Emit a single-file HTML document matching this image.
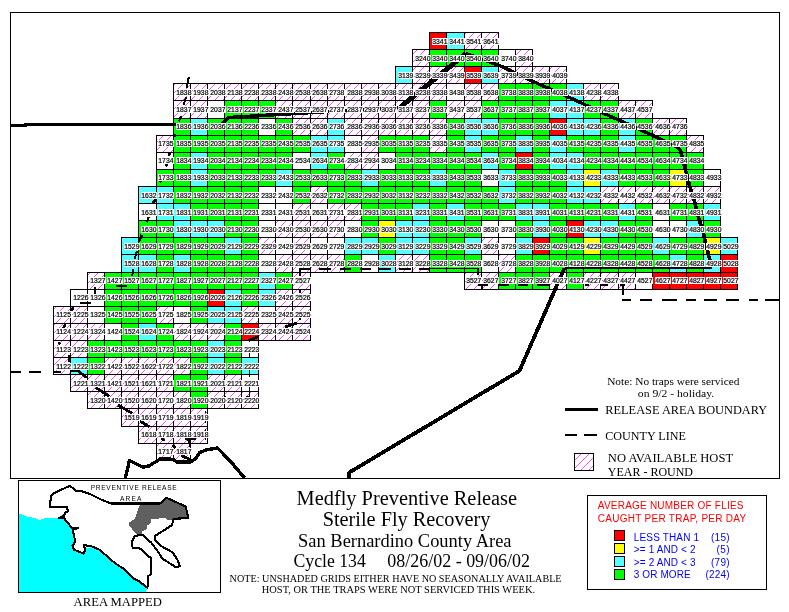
<!DOCTYPE html><html><head><meta charset="utf-8"><title>Medfly Preventive Release</title>
<style>html,body{margin:0;padding:0;background:#fff}svg{display:block}.lb{font-family:"Liberation Sans",sans-serif;font-size:7.4px;fill:#000;stroke:#000;stroke-width:.22px}.sf{font-family:"Liberation Serif",serif;fill:#000}.ss{font-family:"Liberation Sans",sans-serif}</style></head><body>
<svg width="789" height="612" viewBox="0 0 789 612">
<rect x="0" y="0" width="789" height="612" fill="#fff"/>
<g shape-rendering="crispEdges">
<rect x="10.5" y="12.5" width="769" height="466" fill="none" stroke="#000" stroke-width="1"/>
<rect x="429" y="32" width="17" height="17" fill="#ff0000"/>
<rect x="446" y="32" width="18" height="17" fill="#55ffff"/>
<rect x="464" y="32" width="17" height="17" fill="#ffffff"/>
<rect x="481" y="32" width="17" height="17" fill="#ffffff"/>
<rect x="412" y="49" width="17" height="17" fill="#ffffff"/>
<rect x="429" y="49" width="17" height="17" fill="#00ff00"/>
<rect x="446" y="49" width="18" height="17" fill="#00ff00"/>
<rect x="464" y="49" width="17" height="17" fill="#00ff00"/>
<rect x="481" y="49" width="17" height="17" fill="#00ff00"/>
<rect x="498" y="49" width="17" height="17" fill="#ffffff"/>
<rect x="515" y="49" width="17" height="17" fill="#ffffff"/>
<rect x="395" y="66" width="17" height="17" fill="#55ffff"/>
<rect x="412" y="66" width="17" height="17" fill="#ffffff"/>
<rect x="429" y="66" width="17" height="17" fill="#ffffff"/>
<rect x="446" y="66" width="18" height="17" fill="#ffffff"/>
<rect x="464" y="66" width="17" height="17" fill="#ff0000"/>
<rect x="481" y="66" width="17" height="17" fill="#55ffff"/>
<rect x="498" y="66" width="17" height="17" fill="#ffffff"/>
<rect x="515" y="66" width="17" height="17" fill="#ffffff"/>
<rect x="532" y="66" width="17" height="17" fill="#ffffff"/>
<rect x="549" y="66" width="17" height="17" fill="#ffffff"/>
<rect x="173" y="83" width="17" height="17" fill="#ffffff"/>
<rect x="190" y="83" width="17" height="17" fill="#ffffff"/>
<rect x="207" y="83" width="17" height="17" fill="#ffffff"/>
<rect x="224" y="83" width="17" height="17" fill="#ffffff"/>
<rect x="241" y="83" width="17" height="17" fill="#ffffff"/>
<rect x="258" y="83" width="17" height="17" fill="#ffffff"/>
<rect x="275" y="83" width="17" height="17" fill="#ffffff"/>
<rect x="292" y="83" width="18" height="17" fill="#ffffff"/>
<rect x="310" y="83" width="17" height="17" fill="#ffffff"/>
<rect x="327" y="83" width="17" height="17" fill="#ffffff"/>
<rect x="344" y="83" width="17" height="17" fill="#ffffff"/>
<rect x="361" y="83" width="17" height="17" fill="#ffffff"/>
<rect x="378" y="83" width="17" height="17" fill="#ffffff"/>
<rect x="395" y="83" width="17" height="17" fill="#ffffff"/>
<rect x="412" y="83" width="17" height="17" fill="#ffffff"/>
<rect x="429" y="83" width="17" height="17" fill="#ffffff"/>
<rect x="446" y="83" width="18" height="17" fill="#ffffff"/>
<rect x="464" y="83" width="17" height="17" fill="#ffffff"/>
<rect x="481" y="83" width="17" height="17" fill="#ffffff"/>
<rect x="498" y="83" width="17" height="17" fill="#00ff00"/>
<rect x="515" y="83" width="17" height="17" fill="#00ff00"/>
<rect x="532" y="83" width="17" height="17" fill="#00ff00"/>
<rect x="549" y="83" width="17" height="17" fill="#00ff00"/>
<rect x="566" y="83" width="17" height="17" fill="#55ffff"/>
<rect x="583" y="83" width="17" height="17" fill="#ffffff"/>
<rect x="600" y="83" width="18" height="17" fill="#ffffff"/>
<rect x="173" y="100" width="17" height="18" fill="#ffffff"/>
<rect x="190" y="100" width="17" height="18" fill="#ffffff"/>
<rect x="207" y="100" width="17" height="18" fill="#ffffff"/>
<rect x="224" y="100" width="17" height="18" fill="#00ff00"/>
<rect x="241" y="100" width="17" height="18" fill="#00ff00"/>
<rect x="258" y="100" width="17" height="18" fill="#00ff00"/>
<rect x="275" y="100" width="17" height="18" fill="#ffffff"/>
<rect x="292" y="100" width="18" height="18" fill="#ffffff"/>
<rect x="310" y="100" width="17" height="18" fill="#ffffff"/>
<rect x="327" y="100" width="17" height="18" fill="#ffffff"/>
<rect x="344" y="100" width="17" height="18" fill="#ffffff"/>
<rect x="361" y="100" width="17" height="18" fill="#ffffff"/>
<rect x="378" y="100" width="17" height="18" fill="#ffffff"/>
<rect x="395" y="100" width="17" height="18" fill="#ffffff"/>
<rect x="412" y="100" width="17" height="18" fill="#ffffff"/>
<rect x="429" y="100" width="17" height="18" fill="#00ff00"/>
<rect x="446" y="100" width="18" height="18" fill="#ffffff"/>
<rect x="464" y="100" width="17" height="18" fill="#ffffff"/>
<rect x="481" y="100" width="17" height="18" fill="#00ff00"/>
<rect x="498" y="100" width="17" height="18" fill="#00ff00"/>
<rect x="515" y="100" width="17" height="18" fill="#00ff00"/>
<rect x="532" y="100" width="17" height="18" fill="#00ff00"/>
<rect x="549" y="100" width="17" height="18" fill="#55ffff"/>
<rect x="566" y="100" width="17" height="18" fill="#55ffff"/>
<rect x="583" y="100" width="17" height="18" fill="#00ff00"/>
<rect x="600" y="100" width="18" height="18" fill="#00ff00"/>
<rect x="618" y="100" width="17" height="18" fill="#ffffff"/>
<rect x="635" y="100" width="17" height="18" fill="#ffffff"/>
<rect x="173" y="118" width="17" height="17" fill="#00ff00"/>
<rect x="190" y="118" width="17" height="17" fill="#55ffff"/>
<rect x="207" y="118" width="17" height="17" fill="#00ff00"/>
<rect x="224" y="118" width="17" height="17" fill="#00ff00"/>
<rect x="241" y="118" width="17" height="17" fill="#00ff00"/>
<rect x="258" y="118" width="17" height="17" fill="#ffffff"/>
<rect x="275" y="118" width="17" height="17" fill="#00ff00"/>
<rect x="292" y="118" width="18" height="17" fill="#ffffff"/>
<rect x="310" y="118" width="17" height="17" fill="#ffffff"/>
<rect x="327" y="118" width="17" height="17" fill="#55ffff"/>
<rect x="344" y="118" width="17" height="17" fill="#ffffff"/>
<rect x="361" y="118" width="17" height="17" fill="#ffffff"/>
<rect x="378" y="118" width="17" height="17" fill="#ffffff"/>
<rect x="395" y="118" width="17" height="17" fill="#ffffff"/>
<rect x="412" y="118" width="17" height="17" fill="#ffffff"/>
<rect x="429" y="118" width="17" height="17" fill="#ffffff"/>
<rect x="446" y="118" width="18" height="17" fill="#00ff00"/>
<rect x="464" y="118" width="17" height="17" fill="#55ffff"/>
<rect x="481" y="118" width="17" height="17" fill="#55ffff"/>
<rect x="498" y="118" width="17" height="17" fill="#00ff00"/>
<rect x="515" y="118" width="17" height="17" fill="#00ff00"/>
<rect x="532" y="118" width="17" height="17" fill="#00ff00"/>
<rect x="549" y="118" width="17" height="17" fill="#ff0000"/>
<rect x="566" y="118" width="17" height="17" fill="#55ffff"/>
<rect x="583" y="118" width="17" height="17" fill="#55ffff"/>
<rect x="600" y="118" width="18" height="17" fill="#00ff00"/>
<rect x="618" y="118" width="17" height="17" fill="#55ffff"/>
<rect x="635" y="118" width="17" height="17" fill="#00ff00"/>
<rect x="652" y="118" width="17" height="17" fill="#ffffff"/>
<rect x="669" y="118" width="17" height="17" fill="#ffffff"/>
<rect x="156" y="135" width="17" height="17" fill="#ffffff"/>
<rect x="173" y="135" width="17" height="17" fill="#00ff00"/>
<rect x="190" y="135" width="17" height="17" fill="#00ff00"/>
<rect x="207" y="135" width="17" height="17" fill="#00ff00"/>
<rect x="224" y="135" width="17" height="17" fill="#00ff00"/>
<rect x="241" y="135" width="17" height="17" fill="#00ff00"/>
<rect x="258" y="135" width="17" height="17" fill="#00ff00"/>
<rect x="275" y="135" width="17" height="17" fill="#00ff00"/>
<rect x="292" y="135" width="18" height="17" fill="#00ff00"/>
<rect x="310" y="135" width="17" height="17" fill="#55ffff"/>
<rect x="327" y="135" width="17" height="17" fill="#55ffff"/>
<rect x="344" y="135" width="17" height="17" fill="#ffffff"/>
<rect x="361" y="135" width="17" height="17" fill="#ffffff"/>
<rect x="378" y="135" width="17" height="17" fill="#00ff00"/>
<rect x="395" y="135" width="17" height="17" fill="#00ff00"/>
<rect x="412" y="135" width="17" height="17" fill="#00ff00"/>
<rect x="429" y="135" width="17" height="17" fill="#ffffff"/>
<rect x="446" y="135" width="18" height="17" fill="#00ff00"/>
<rect x="464" y="135" width="17" height="17" fill="#55ffff"/>
<rect x="481" y="135" width="17" height="17" fill="#00ff00"/>
<rect x="498" y="135" width="17" height="17" fill="#00ff00"/>
<rect x="515" y="135" width="17" height="17" fill="#55ffff"/>
<rect x="532" y="135" width="17" height="17" fill="#00ff00"/>
<rect x="549" y="135" width="17" height="17" fill="#55ffff"/>
<rect x="566" y="135" width="17" height="17" fill="#00ff00"/>
<rect x="583" y="135" width="17" height="17" fill="#00ff00"/>
<rect x="600" y="135" width="18" height="17" fill="#00ff00"/>
<rect x="618" y="135" width="17" height="17" fill="#55ffff"/>
<rect x="635" y="135" width="17" height="17" fill="#00ff00"/>
<rect x="652" y="135" width="17" height="17" fill="#00ff00"/>
<rect x="669" y="135" width="17" height="17" fill="#00ff00"/>
<rect x="686" y="135" width="17" height="17" fill="#ffffff"/>
<rect x="156" y="152" width="17" height="17" fill="#ffffff"/>
<rect x="173" y="152" width="17" height="17" fill="#00ff00"/>
<rect x="190" y="152" width="17" height="17" fill="#55ffff"/>
<rect x="207" y="152" width="17" height="17" fill="#00ff00"/>
<rect x="224" y="152" width="17" height="17" fill="#00ff00"/>
<rect x="241" y="152" width="17" height="17" fill="#00ff00"/>
<rect x="258" y="152" width="17" height="17" fill="#00ff00"/>
<rect x="275" y="152" width="17" height="17" fill="#00ff00"/>
<rect x="292" y="152" width="18" height="17" fill="#ffffff"/>
<rect x="310" y="152" width="17" height="17" fill="#55ffff"/>
<rect x="327" y="152" width="17" height="17" fill="#00ff00"/>
<rect x="344" y="152" width="17" height="17" fill="#ffffff"/>
<rect x="361" y="152" width="17" height="17" fill="#ffffff"/>
<rect x="378" y="152" width="17" height="17" fill="#ffffff"/>
<rect x="395" y="152" width="17" height="17" fill="#00ff00"/>
<rect x="412" y="152" width="17" height="17" fill="#00ff00"/>
<rect x="429" y="152" width="17" height="17" fill="#00ff00"/>
<rect x="446" y="152" width="18" height="17" fill="#00ff00"/>
<rect x="464" y="152" width="17" height="17" fill="#00ff00"/>
<rect x="481" y="152" width="17" height="17" fill="#55ffff"/>
<rect x="498" y="152" width="17" height="17" fill="#00ff00"/>
<rect x="515" y="152" width="17" height="17" fill="#ff0000"/>
<rect x="532" y="152" width="17" height="17" fill="#00ff00"/>
<rect x="549" y="152" width="17" height="17" fill="#55ffff"/>
<rect x="566" y="152" width="17" height="17" fill="#55ffff"/>
<rect x="583" y="152" width="17" height="17" fill="#00ff00"/>
<rect x="600" y="152" width="18" height="17" fill="#00ff00"/>
<rect x="618" y="152" width="17" height="17" fill="#00ff00"/>
<rect x="635" y="152" width="17" height="17" fill="#00ff00"/>
<rect x="652" y="152" width="17" height="17" fill="#00ff00"/>
<rect x="669" y="152" width="17" height="17" fill="#00ff00"/>
<rect x="686" y="152" width="17" height="17" fill="#00ff00"/>
<rect x="156" y="169" width="17" height="17" fill="#00ff00"/>
<rect x="173" y="169" width="17" height="17" fill="#00ff00"/>
<rect x="190" y="169" width="17" height="17" fill="#55ffff"/>
<rect x="207" y="169" width="17" height="17" fill="#00ff00"/>
<rect x="224" y="169" width="17" height="17" fill="#00ff00"/>
<rect x="241" y="169" width="17" height="17" fill="#00ff00"/>
<rect x="258" y="169" width="17" height="17" fill="#00ff00"/>
<rect x="275" y="169" width="17" height="17" fill="#55ffff"/>
<rect x="292" y="169" width="18" height="17" fill="#00ff00"/>
<rect x="310" y="169" width="17" height="17" fill="#00ff00"/>
<rect x="327" y="169" width="17" height="17" fill="#00ff00"/>
<rect x="344" y="169" width="17" height="17" fill="#00ff00"/>
<rect x="361" y="169" width="17" height="17" fill="#55ffff"/>
<rect x="378" y="169" width="17" height="17" fill="#00ff00"/>
<rect x="395" y="169" width="17" height="17" fill="#00ff00"/>
<rect x="412" y="169" width="17" height="17" fill="#00ff00"/>
<rect x="429" y="169" width="17" height="17" fill="#55ffff"/>
<rect x="446" y="169" width="18" height="17" fill="#00ff00"/>
<rect x="464" y="169" width="17" height="17" fill="#00ff00"/>
<rect x="481" y="169" width="17" height="17" fill="#ffffff"/>
<rect x="498" y="169" width="17" height="17" fill="#55ffff"/>
<rect x="515" y="169" width="17" height="17" fill="#00ff00"/>
<rect x="532" y="169" width="17" height="17" fill="#00ff00"/>
<rect x="549" y="169" width="17" height="17" fill="#00ff00"/>
<rect x="566" y="169" width="17" height="17" fill="#55ffff"/>
<rect x="583" y="169" width="17" height="17" fill="#ffff00"/>
<rect x="600" y="169" width="18" height="17" fill="#55ffff"/>
<rect x="618" y="169" width="17" height="17" fill="#00ff00"/>
<rect x="635" y="169" width="17" height="17" fill="#00ff00"/>
<rect x="652" y="169" width="17" height="17" fill="#00ff00"/>
<rect x="669" y="169" width="17" height="17" fill="#ffff00"/>
<rect x="686" y="169" width="17" height="17" fill="#00ff00"/>
<rect x="703" y="169" width="17" height="17" fill="#ffffff"/>
<rect x="138" y="186" width="18" height="17" fill="#55ffff"/>
<rect x="156" y="186" width="17" height="17" fill="#55ffff"/>
<rect x="173" y="186" width="17" height="17" fill="#00ff00"/>
<rect x="190" y="186" width="17" height="17" fill="#00ff00"/>
<rect x="207" y="186" width="17" height="17" fill="#00ff00"/>
<rect x="224" y="186" width="17" height="17" fill="#00ff00"/>
<rect x="241" y="186" width="17" height="17" fill="#00ff00"/>
<rect x="258" y="186" width="17" height="17" fill="#ffffff"/>
<rect x="275" y="186" width="17" height="17" fill="#ffffff"/>
<rect x="292" y="186" width="18" height="17" fill="#00ff00"/>
<rect x="310" y="186" width="17" height="17" fill="#ffffff"/>
<rect x="327" y="186" width="17" height="17" fill="#00ff00"/>
<rect x="344" y="186" width="17" height="17" fill="#00ff00"/>
<rect x="361" y="186" width="17" height="17" fill="#00ff00"/>
<rect x="378" y="186" width="17" height="17" fill="#00ff00"/>
<rect x="395" y="186" width="17" height="17" fill="#00ff00"/>
<rect x="412" y="186" width="17" height="17" fill="#00ff00"/>
<rect x="429" y="186" width="17" height="17" fill="#00ff00"/>
<rect x="446" y="186" width="18" height="17" fill="#00ff00"/>
<rect x="464" y="186" width="17" height="17" fill="#00ff00"/>
<rect x="481" y="186" width="17" height="17" fill="#00ff00"/>
<rect x="498" y="186" width="17" height="17" fill="#55ffff"/>
<rect x="515" y="186" width="17" height="17" fill="#00ff00"/>
<rect x="532" y="186" width="17" height="17" fill="#00ff00"/>
<rect x="549" y="186" width="17" height="17" fill="#00ff00"/>
<rect x="566" y="186" width="17" height="17" fill="#55ffff"/>
<rect x="583" y="186" width="17" height="17" fill="#55ffff"/>
<rect x="600" y="186" width="18" height="17" fill="#ffffff"/>
<rect x="618" y="186" width="17" height="17" fill="#ffffff"/>
<rect x="635" y="186" width="17" height="17" fill="#ffffff"/>
<rect x="652" y="186" width="17" height="17" fill="#ffffff"/>
<rect x="669" y="186" width="17" height="17" fill="#ffffff"/>
<rect x="686" y="186" width="17" height="17" fill="#ffffff"/>
<rect x="703" y="186" width="17" height="17" fill="#ffffff"/>
<rect x="138" y="203" width="18" height="17" fill="#ffffff"/>
<rect x="156" y="203" width="17" height="17" fill="#55ffff"/>
<rect x="173" y="203" width="17" height="17" fill="#55ffff"/>
<rect x="190" y="203" width="17" height="17" fill="#00ff00"/>
<rect x="207" y="203" width="17" height="17" fill="#00ff00"/>
<rect x="224" y="203" width="17" height="17" fill="#00ff00"/>
<rect x="241" y="203" width="17" height="17" fill="#00ff00"/>
<rect x="258" y="203" width="17" height="17" fill="#ffffff"/>
<rect x="275" y="203" width="17" height="17" fill="#ffffff"/>
<rect x="292" y="203" width="18" height="17" fill="#ffffff"/>
<rect x="310" y="203" width="17" height="17" fill="#ffffff"/>
<rect x="327" y="203" width="17" height="17" fill="#ffffff"/>
<rect x="344" y="203" width="17" height="17" fill="#ffffff"/>
<rect x="361" y="203" width="17" height="17" fill="#00ff00"/>
<rect x="378" y="203" width="17" height="17" fill="#00ff00"/>
<rect x="395" y="203" width="17" height="17" fill="#00ff00"/>
<rect x="412" y="203" width="17" height="17" fill="#55ffff"/>
<rect x="429" y="203" width="17" height="17" fill="#00ff00"/>
<rect x="446" y="203" width="18" height="17" fill="#55ffff"/>
<rect x="464" y="203" width="17" height="17" fill="#00ff00"/>
<rect x="481" y="203" width="17" height="17" fill="#00ff00"/>
<rect x="498" y="203" width="17" height="17" fill="#00ff00"/>
<rect x="515" y="203" width="17" height="17" fill="#55ffff"/>
<rect x="532" y="203" width="17" height="17" fill="#55ffff"/>
<rect x="549" y="203" width="17" height="17" fill="#00ff00"/>
<rect x="566" y="203" width="17" height="17" fill="#00ff00"/>
<rect x="583" y="203" width="17" height="17" fill="#00ff00"/>
<rect x="600" y="203" width="18" height="17" fill="#00ff00"/>
<rect x="618" y="203" width="17" height="17" fill="#55ffff"/>
<rect x="635" y="203" width="17" height="17" fill="#00ff00"/>
<rect x="652" y="203" width="17" height="17" fill="#ffffff"/>
<rect x="669" y="203" width="17" height="17" fill="#00ff00"/>
<rect x="686" y="203" width="17" height="17" fill="#00ff00"/>
<rect x="703" y="203" width="17" height="17" fill="#55ffff"/>
<rect x="138" y="220" width="18" height="17" fill="#00ff00"/>
<rect x="156" y="220" width="17" height="17" fill="#00ff00"/>
<rect x="173" y="220" width="17" height="17" fill="#55ffff"/>
<rect x="190" y="220" width="17" height="17" fill="#55ffff"/>
<rect x="207" y="220" width="17" height="17" fill="#55ffff"/>
<rect x="224" y="220" width="17" height="17" fill="#00ff00"/>
<rect x="241" y="220" width="17" height="17" fill="#00ff00"/>
<rect x="258" y="220" width="17" height="17" fill="#ffffff"/>
<rect x="275" y="220" width="17" height="17" fill="#ffffff"/>
<rect x="292" y="220" width="18" height="17" fill="#ffffff"/>
<rect x="310" y="220" width="17" height="17" fill="#ffffff"/>
<rect x="327" y="220" width="17" height="17" fill="#ffffff"/>
<rect x="344" y="220" width="17" height="17" fill="#ffffff"/>
<rect x="361" y="220" width="17" height="17" fill="#00ff00"/>
<rect x="378" y="220" width="17" height="17" fill="#ffff00"/>
<rect x="395" y="220" width="17" height="17" fill="#55ffff"/>
<rect x="412" y="220" width="17" height="17" fill="#55ffff"/>
<rect x="429" y="220" width="17" height="17" fill="#00ff00"/>
<rect x="446" y="220" width="18" height="17" fill="#00ff00"/>
<rect x="464" y="220" width="17" height="17" fill="#00ff00"/>
<rect x="481" y="220" width="17" height="17" fill="#ffffff"/>
<rect x="498" y="220" width="17" height="17" fill="#ffffff"/>
<rect x="515" y="220" width="17" height="17" fill="#00ff00"/>
<rect x="532" y="220" width="17" height="17" fill="#55ffff"/>
<rect x="549" y="220" width="17" height="17" fill="#00ff00"/>
<rect x="566" y="220" width="17" height="17" fill="#ff0000"/>
<rect x="583" y="220" width="17" height="17" fill="#55ffff"/>
<rect x="600" y="220" width="18" height="17" fill="#55ffff"/>
<rect x="618" y="220" width="17" height="17" fill="#00ff00"/>
<rect x="635" y="220" width="17" height="17" fill="#00ff00"/>
<rect x="652" y="220" width="17" height="17" fill="#ffffff"/>
<rect x="669" y="220" width="17" height="17" fill="#ffffff"/>
<rect x="686" y="220" width="17" height="17" fill="#55ffff"/>
<rect x="703" y="220" width="17" height="17" fill="#00ff00"/>
<rect x="121" y="237" width="17" height="17" fill="#55ffff"/>
<rect x="138" y="237" width="18" height="17" fill="#00ff00"/>
<rect x="156" y="237" width="17" height="17" fill="#00ff00"/>
<rect x="173" y="237" width="17" height="17" fill="#00ff00"/>
<rect x="190" y="237" width="17" height="17" fill="#00ff00"/>
<rect x="207" y="237" width="17" height="17" fill="#00ff00"/>
<rect x="224" y="237" width="17" height="17" fill="#55ffff"/>
<rect x="241" y="237" width="17" height="17" fill="#00ff00"/>
<rect x="258" y="237" width="17" height="17" fill="#ffffff"/>
<rect x="275" y="237" width="17" height="17" fill="#ffffff"/>
<rect x="292" y="237" width="18" height="17" fill="#ffffff"/>
<rect x="310" y="237" width="17" height="17" fill="#ffffff"/>
<rect x="327" y="237" width="17" height="17" fill="#ffffff"/>
<rect x="344" y="237" width="17" height="17" fill="#55ffff"/>
<rect x="361" y="237" width="17" height="17" fill="#55ffff"/>
<rect x="378" y="237" width="17" height="17" fill="#00ff00"/>
<rect x="395" y="237" width="17" height="17" fill="#55ffff"/>
<rect x="412" y="237" width="17" height="17" fill="#55ffff"/>
<rect x="429" y="237" width="17" height="17" fill="#00ff00"/>
<rect x="446" y="237" width="18" height="17" fill="#00ff00"/>
<rect x="464" y="237" width="17" height="17" fill="#55ffff"/>
<rect x="481" y="237" width="17" height="17" fill="#ffffff"/>
<rect x="498" y="237" width="17" height="17" fill="#ffffff"/>
<rect x="515" y="237" width="17" height="17" fill="#55ffff"/>
<rect x="532" y="237" width="17" height="17" fill="#ff0000"/>
<rect x="549" y="237" width="17" height="17" fill="#00ff00"/>
<rect x="566" y="237" width="17" height="17" fill="#00ff00"/>
<rect x="583" y="237" width="17" height="17" fill="#ffff00"/>
<rect x="600" y="237" width="18" height="17" fill="#00ff00"/>
<rect x="618" y="237" width="17" height="17" fill="#00ff00"/>
<rect x="635" y="237" width="17" height="17" fill="#00ff00"/>
<rect x="652" y="237" width="17" height="17" fill="#55ffff"/>
<rect x="669" y="237" width="17" height="17" fill="#00ff00"/>
<rect x="686" y="237" width="17" height="17" fill="#00ff00"/>
<rect x="703" y="237" width="17" height="17" fill="#ffff00"/>
<rect x="720" y="237" width="17" height="17" fill="#55ffff"/>
<rect x="121" y="254" width="17" height="18" fill="#55ffff"/>
<rect x="138" y="254" width="18" height="18" fill="#55ffff"/>
<rect x="156" y="254" width="17" height="18" fill="#00ff00"/>
<rect x="173" y="254" width="17" height="18" fill="#55ffff"/>
<rect x="190" y="254" width="17" height="18" fill="#00ff00"/>
<rect x="207" y="254" width="17" height="18" fill="#00ff00"/>
<rect x="224" y="254" width="17" height="18" fill="#00ff00"/>
<rect x="241" y="254" width="17" height="18" fill="#00ff00"/>
<rect x="258" y="254" width="17" height="18" fill="#ffffff"/>
<rect x="275" y="254" width="17" height="18" fill="#ffffff"/>
<rect x="292" y="254" width="18" height="18" fill="#ffffff"/>
<rect x="310" y="254" width="17" height="18" fill="#ffffff"/>
<rect x="327" y="254" width="17" height="18" fill="#ffffff"/>
<rect x="344" y="254" width="17" height="18" fill="#00ff00"/>
<rect x="361" y="254" width="17" height="18" fill="#ffffff"/>
<rect x="378" y="254" width="17" height="18" fill="#55ffff"/>
<rect x="395" y="254" width="17" height="18" fill="#ffffff"/>
<rect x="412" y="254" width="17" height="18" fill="#ffffff"/>
<rect x="429" y="254" width="17" height="18" fill="#00ff00"/>
<rect x="446" y="254" width="18" height="18" fill="#00ff00"/>
<rect x="464" y="254" width="17" height="18" fill="#00ff00"/>
<rect x="481" y="254" width="17" height="18" fill="#ffffff"/>
<rect x="498" y="254" width="17" height="18" fill="#ffffff"/>
<rect x="515" y="254" width="17" height="18" fill="#00ff00"/>
<rect x="532" y="254" width="17" height="18" fill="#00ff00"/>
<rect x="549" y="254" width="17" height="18" fill="#00ff00"/>
<rect x="566" y="254" width="17" height="18" fill="#00ff00"/>
<rect x="583" y="254" width="17" height="18" fill="#00ff00"/>
<rect x="600" y="254" width="18" height="18" fill="#00ff00"/>
<rect x="618" y="254" width="17" height="18" fill="#00ff00"/>
<rect x="635" y="254" width="17" height="18" fill="#00ff00"/>
<rect x="652" y="254" width="17" height="18" fill="#00ff00"/>
<rect x="669" y="254" width="17" height="18" fill="#55ffff"/>
<rect x="686" y="254" width="17" height="18" fill="#00ff00"/>
<rect x="703" y="254" width="17" height="18" fill="#55ffff"/>
<rect x="720" y="254" width="17" height="18" fill="#ff0000"/>
<rect x="70" y="289" width="17" height="17" fill="#ffffff"/>
<rect x="87" y="289" width="17" height="17" fill="#ffffff"/>
<rect x="104" y="289" width="17" height="17" fill="#00ff00"/>
<rect x="121" y="289" width="17" height="17" fill="#00ff00"/>
<rect x="138" y="289" width="18" height="17" fill="#00ff00"/>
<rect x="156" y="289" width="17" height="17" fill="#00ff00"/>
<rect x="173" y="289" width="17" height="17" fill="#00ff00"/>
<rect x="190" y="289" width="17" height="17" fill="#00ff00"/>
<rect x="207" y="289" width="17" height="17" fill="#ff0000"/>
<rect x="224" y="289" width="17" height="17" fill="#55ffff"/>
<rect x="241" y="289" width="17" height="17" fill="#00ff00"/>
<rect x="258" y="289" width="17" height="17" fill="#55ffff"/>
<rect x="275" y="289" width="17" height="17" fill="#ffffff"/>
<rect x="292" y="289" width="18" height="17" fill="#ffffff"/>
<rect x="53" y="306" width="17" height="17" fill="#ffffff"/>
<rect x="70" y="306" width="17" height="17" fill="#ffffff"/>
<rect x="87" y="306" width="17" height="17" fill="#ffffff"/>
<rect x="104" y="306" width="17" height="17" fill="#00ff00"/>
<rect x="121" y="306" width="17" height="17" fill="#00ff00"/>
<rect x="138" y="306" width="18" height="17" fill="#00ff00"/>
<rect x="156" y="306" width="17" height="17" fill="#ffffff"/>
<rect x="173" y="306" width="17" height="17" fill="#ffffff"/>
<rect x="190" y="306" width="17" height="17" fill="#00ff00"/>
<rect x="207" y="306" width="17" height="17" fill="#55ffff"/>
<rect x="224" y="306" width="17" height="17" fill="#55ffff"/>
<rect x="241" y="306" width="17" height="17" fill="#ffffff"/>
<rect x="258" y="306" width="17" height="17" fill="#ffffff"/>
<rect x="275" y="306" width="17" height="17" fill="#ffffff"/>
<rect x="292" y="306" width="18" height="17" fill="#ffffff"/>
<rect x="53" y="323" width="17" height="17" fill="#ffffff"/>
<rect x="70" y="323" width="17" height="17" fill="#ffffff"/>
<rect x="87" y="323" width="17" height="17" fill="#ffffff"/>
<rect x="104" y="323" width="17" height="17" fill="#ffffff"/>
<rect x="121" y="323" width="17" height="17" fill="#00ff00"/>
<rect x="138" y="323" width="18" height="17" fill="#55ffff"/>
<rect x="156" y="323" width="17" height="17" fill="#00ff00"/>
<rect x="173" y="323" width="17" height="17" fill="#ffffff"/>
<rect x="190" y="323" width="17" height="17" fill="#ffffff"/>
<rect x="207" y="323" width="17" height="17" fill="#ffffff"/>
<rect x="224" y="323" width="17" height="17" fill="#00ff00"/>
<rect x="241" y="323" width="17" height="17" fill="#ff0000"/>
<rect x="258" y="323" width="17" height="17" fill="#ffffff"/>
<rect x="275" y="323" width="17" height="17" fill="#ffffff"/>
<rect x="292" y="323" width="18" height="17" fill="#ffffff"/>
<rect x="53" y="340" width="17" height="17" fill="#ffffff"/>
<rect x="70" y="340" width="17" height="17" fill="#ffffff"/>
<rect x="87" y="340" width="17" height="17" fill="#00ff00"/>
<rect x="104" y="340" width="17" height="17" fill="#00ff00"/>
<rect x="121" y="340" width="17" height="17" fill="#00ff00"/>
<rect x="138" y="340" width="18" height="17" fill="#00ff00"/>
<rect x="156" y="340" width="17" height="17" fill="#00ff00"/>
<rect x="173" y="340" width="17" height="17" fill="#00ff00"/>
<rect x="190" y="340" width="17" height="17" fill="#00ff00"/>
<rect x="207" y="340" width="17" height="17" fill="#55ffff"/>
<rect x="224" y="340" width="17" height="17" fill="#00ff00"/>
<rect x="241" y="340" width="17" height="17" fill="#ffffff"/>
<rect x="53" y="357" width="17" height="17" fill="#ffffff"/>
<rect x="70" y="357" width="17" height="17" fill="#55ffff"/>
<rect x="87" y="357" width="17" height="17" fill="#00ff00"/>
<rect x="104" y="357" width="17" height="17" fill="#ffffff"/>
<rect x="121" y="357" width="17" height="17" fill="#ffffff"/>
<rect x="138" y="357" width="18" height="17" fill="#ffffff"/>
<rect x="156" y="357" width="17" height="17" fill="#ffffff"/>
<rect x="173" y="357" width="17" height="17" fill="#ffffff"/>
<rect x="190" y="357" width="17" height="17" fill="#00ff00"/>
<rect x="207" y="357" width="17" height="17" fill="#55ffff"/>
<rect x="224" y="357" width="17" height="17" fill="#00ff00"/>
<rect x="241" y="357" width="17" height="17" fill="#55ffff"/>
<rect x="70" y="374" width="17" height="17" fill="#ffffff"/>
<rect x="87" y="374" width="17" height="17" fill="#ffffff"/>
<rect x="104" y="374" width="17" height="17" fill="#ffffff"/>
<rect x="121" y="374" width="17" height="17" fill="#ffffff"/>
<rect x="138" y="374" width="18" height="17" fill="#ffffff"/>
<rect x="156" y="374" width="17" height="17" fill="#ffffff"/>
<rect x="173" y="374" width="17" height="17" fill="#00ff00"/>
<rect x="190" y="374" width="17" height="17" fill="#00ff00"/>
<rect x="207" y="374" width="17" height="17" fill="#ffffff"/>
<rect x="224" y="374" width="17" height="17" fill="#ffffff"/>
<rect x="241" y="374" width="17" height="17" fill="#ffffff"/>
<rect x="87" y="391" width="17" height="17" fill="#ffffff"/>
<rect x="104" y="391" width="17" height="17" fill="#ffffff"/>
<rect x="121" y="391" width="17" height="17" fill="#ffffff"/>
<rect x="138" y="391" width="18" height="17" fill="#ffffff"/>
<rect x="156" y="391" width="17" height="17" fill="#ffffff"/>
<rect x="173" y="391" width="17" height="17" fill="#ffffff"/>
<rect x="190" y="391" width="17" height="17" fill="#00ff00"/>
<rect x="207" y="391" width="17" height="17" fill="#ffffff"/>
<rect x="224" y="391" width="17" height="17" fill="#ffffff"/>
<rect x="241" y="391" width="17" height="17" fill="#ffffff"/>
<rect x="121" y="408" width="17" height="18" fill="#ffffff"/>
<rect x="138" y="408" width="18" height="18" fill="#ffffff"/>
<rect x="156" y="408" width="17" height="18" fill="#ffffff"/>
<rect x="173" y="408" width="17" height="18" fill="#ffffff"/>
<rect x="190" y="408" width="17" height="18" fill="#ffffff"/>
<rect x="138" y="426" width="18" height="17" fill="#ffffff"/>
<rect x="156" y="426" width="17" height="17" fill="#ffffff"/>
<rect x="173" y="426" width="17" height="17" fill="#ffffff"/>
<rect x="190" y="426" width="17" height="17" fill="#ffffff"/>
<rect x="156" y="443" width="17" height="17" fill="#ffffff"/>
<rect x="173" y="443" width="17" height="17" fill="#ffffff"/>
<rect x="87" y="272" width="17" height="17" fill="#ffffff"/>
<rect x="104" y="272" width="17" height="17" fill="#00ff00"/>
<rect x="121" y="272" width="17" height="17" fill="#00ff00"/>
<rect x="138" y="272" width="18" height="17" fill="#00ff00"/>
<rect x="156" y="272" width="17" height="17" fill="#00ff00"/>
<rect x="173" y="272" width="17" height="17" fill="#00ff00"/>
<rect x="190" y="272" width="17" height="17" fill="#00ff00"/>
<rect x="207" y="272" width="17" height="17" fill="#00ff00"/>
<rect x="224" y="272" width="17" height="17" fill="#00ff00"/>
<rect x="241" y="272" width="17" height="17" fill="#00ff00"/>
<rect x="258" y="272" width="17" height="17" fill="#55ffff"/>
<rect x="275" y="272" width="17" height="17" fill="#00ff00"/>
<rect x="292" y="272" width="18" height="17" fill="#ffffff"/>
<rect x="464" y="272" width="17" height="17" fill="#ffffff"/>
<rect x="481" y="272" width="17" height="17" fill="#ffffff"/>
<rect x="498" y="272" width="17" height="17" fill="#00ff00"/>
<rect x="515" y="272" width="17" height="17" fill="#00ff00"/>
<rect x="532" y="272" width="17" height="17" fill="#00ff00"/>
<rect x="549" y="272" width="17" height="17" fill="#ffffff"/>
<rect x="566" y="272" width="17" height="17" fill="#00ff00"/>
<rect x="583" y="272" width="17" height="17" fill="#ffffff"/>
<rect x="600" y="272" width="18" height="17" fill="#ffffff"/>
<rect x="618" y="272" width="17" height="17" fill="#ffffff"/>
<rect x="635" y="272" width="17" height="17" fill="#ffffff"/>
<rect x="652" y="272" width="17" height="17" fill="#ff0000"/>
<rect x="669" y="272" width="17" height="17" fill="#ff0000"/>
<rect x="686" y="272" width="17" height="17" fill="#ff0000"/>
<rect x="703" y="272" width="17" height="17" fill="#ff0000"/>
<rect x="720" y="272" width="17" height="17" fill="#ff0000"/>
<clipPath id="hc">
<rect x="464" y="32" width="17" height="17"/>
<rect x="481" y="32" width="17" height="17"/>
<rect x="412" y="49" width="17" height="17"/>
<rect x="515" y="49" width="17" height="17"/>
<rect x="412" y="66" width="17" height="17"/>
<rect x="429" y="66" width="17" height="17"/>
<rect x="446" y="66" width="18" height="17"/>
<rect x="498" y="66" width="17" height="17"/>
<rect x="515" y="66" width="17" height="17"/>
<rect x="532" y="66" width="17" height="17"/>
<rect x="549" y="66" width="17" height="17"/>
<rect x="173" y="83" width="17" height="17"/>
<rect x="190" y="83" width="17" height="17"/>
<rect x="207" y="83" width="17" height="17"/>
<rect x="224" y="83" width="17" height="17"/>
<rect x="241" y="83" width="17" height="17"/>
<rect x="258" y="83" width="17" height="17"/>
<rect x="275" y="83" width="17" height="17"/>
<rect x="292" y="83" width="18" height="17"/>
<rect x="310" y="83" width="17" height="17"/>
<rect x="327" y="83" width="17" height="17"/>
<rect x="344" y="83" width="17" height="17"/>
<rect x="361" y="83" width="17" height="17"/>
<rect x="378" y="83" width="17" height="17"/>
<rect x="395" y="83" width="17" height="17"/>
<rect x="412" y="83" width="17" height="17"/>
<rect x="429" y="83" width="17" height="17"/>
<rect x="464" y="83" width="17" height="17"/>
<rect x="481" y="83" width="17" height="17"/>
<rect x="583" y="83" width="17" height="17"/>
<rect x="600" y="83" width="18" height="17"/>
<rect x="173" y="100" width="17" height="18"/>
<rect x="190" y="100" width="17" height="18"/>
<rect x="275" y="100" width="17" height="18"/>
<rect x="292" y="100" width="18" height="18"/>
<rect x="310" y="100" width="17" height="18"/>
<rect x="327" y="100" width="17" height="18"/>
<rect x="344" y="100" width="17" height="18"/>
<rect x="361" y="100" width="17" height="18"/>
<rect x="378" y="100" width="17" height="18"/>
<rect x="395" y="100" width="17" height="18"/>
<rect x="412" y="100" width="17" height="18"/>
<rect x="446" y="100" width="18" height="18"/>
<rect x="464" y="100" width="17" height="18"/>
<rect x="618" y="100" width="17" height="18"/>
<rect x="635" y="100" width="17" height="18"/>
<rect x="292" y="118" width="18" height="17"/>
<rect x="310" y="118" width="17" height="17"/>
<rect x="344" y="118" width="17" height="17"/>
<rect x="361" y="118" width="17" height="17"/>
<rect x="378" y="118" width="17" height="17"/>
<rect x="395" y="118" width="17" height="17"/>
<rect x="412" y="118" width="17" height="17"/>
<rect x="429" y="118" width="17" height="17"/>
<rect x="652" y="118" width="17" height="17"/>
<rect x="669" y="118" width="17" height="17"/>
<rect x="156" y="135" width="17" height="17"/>
<rect x="361" y="135" width="17" height="17"/>
<rect x="429" y="135" width="17" height="17"/>
<rect x="686" y="135" width="17" height="17"/>
<rect x="344" y="152" width="17" height="17"/>
<rect x="361" y="152" width="17" height="17"/>
<rect x="310" y="186" width="17" height="17"/>
<rect x="600" y="186" width="18" height="17"/>
<rect x="618" y="186" width="17" height="17"/>
<rect x="635" y="186" width="17" height="17"/>
<rect x="652" y="186" width="17" height="17"/>
<rect x="669" y="186" width="17" height="17"/>
<rect x="686" y="186" width="17" height="17"/>
<rect x="703" y="186" width="17" height="17"/>
<rect x="292" y="203" width="18" height="17"/>
<rect x="327" y="203" width="17" height="17"/>
<rect x="344" y="203" width="17" height="17"/>
<rect x="275" y="220" width="17" height="17"/>
<rect x="292" y="220" width="18" height="17"/>
<rect x="310" y="220" width="17" height="17"/>
<rect x="327" y="220" width="17" height="17"/>
<rect x="258" y="237" width="17" height="17"/>
<rect x="292" y="237" width="18" height="17"/>
<rect x="481" y="237" width="17" height="17"/>
<rect x="275" y="254" width="17" height="18"/>
<rect x="292" y="254" width="18" height="18"/>
<rect x="310" y="254" width="17" height="18"/>
<rect x="327" y="254" width="17" height="18"/>
<rect x="395" y="254" width="17" height="18"/>
<rect x="412" y="254" width="17" height="18"/>
<rect x="498" y="254" width="17" height="18"/>
<rect x="275" y="289" width="17" height="17"/>
<rect x="292" y="289" width="18" height="17"/>
<rect x="53" y="306" width="17" height="17"/>
<rect x="70" y="306" width="17" height="17"/>
<rect x="156" y="306" width="17" height="17"/>
<rect x="241" y="306" width="17" height="17"/>
<rect x="275" y="306" width="17" height="17"/>
<rect x="292" y="306" width="18" height="17"/>
<rect x="53" y="323" width="17" height="17"/>
<rect x="70" y="323" width="17" height="17"/>
<rect x="87" y="323" width="17" height="17"/>
<rect x="173" y="323" width="17" height="17"/>
<rect x="190" y="323" width="17" height="17"/>
<rect x="207" y="323" width="17" height="17"/>
<rect x="258" y="323" width="17" height="17"/>
<rect x="275" y="323" width="17" height="17"/>
<rect x="292" y="323" width="18" height="17"/>
<rect x="53" y="340" width="17" height="17"/>
<rect x="70" y="340" width="17" height="17"/>
<rect x="53" y="357" width="17" height="17"/>
<rect x="104" y="357" width="17" height="17"/>
<rect x="121" y="357" width="17" height="17"/>
<rect x="138" y="357" width="18" height="17"/>
<rect x="156" y="357" width="17" height="17"/>
<rect x="173" y="357" width="17" height="17"/>
<rect x="70" y="374" width="17" height="17"/>
<rect x="87" y="374" width="17" height="17"/>
<rect x="104" y="374" width="17" height="17"/>
<rect x="121" y="374" width="17" height="17"/>
<rect x="138" y="374" width="18" height="17"/>
<rect x="156" y="374" width="17" height="17"/>
<rect x="207" y="374" width="17" height="17"/>
<rect x="224" y="374" width="17" height="17"/>
<rect x="87" y="391" width="17" height="17"/>
<rect x="104" y="391" width="17" height="17"/>
<rect x="121" y="391" width="17" height="17"/>
<rect x="138" y="391" width="18" height="17"/>
<rect x="156" y="391" width="17" height="17"/>
<rect x="173" y="391" width="17" height="17"/>
<rect x="207" y="391" width="17" height="17"/>
<rect x="224" y="391" width="17" height="17"/>
<rect x="241" y="391" width="17" height="17"/>
<rect x="121" y="408" width="17" height="18"/>
<rect x="138" y="408" width="18" height="18"/>
<rect x="156" y="408" width="17" height="18"/>
<rect x="173" y="408" width="17" height="18"/>
<rect x="190" y="408" width="17" height="18"/>
<rect x="138" y="426" width="18" height="17"/>
<rect x="156" y="426" width="17" height="17"/>
<rect x="173" y="426" width="17" height="17"/>
<rect x="190" y="426" width="17" height="17"/>
<rect x="156" y="443" width="17" height="17"/>
<rect x="173" y="443" width="17" height="17"/>
<rect x="87" y="272" width="17" height="17"/>
<rect x="292" y="272" width="18" height="17"/>
<rect x="464" y="272" width="17" height="17"/>
<rect x="481" y="272" width="17" height="17"/>
<rect x="549" y="272" width="17" height="17"/>
<rect x="583" y="272" width="17" height="17"/>
<rect x="600" y="272" width="18" height="17"/>
<rect x="618" y="272" width="17" height="17"/>
</clipPath>
<path clip-path="url(#hc)" d="M-387.00,470L58.00,25M-379.00,470L66.00,25M-371.00,470L74.00,25M-363.00,470L82.00,25M-355.00,470L90.00,25M-347.00,470L98.00,25M-339.00,470L106.00,25M-331.00,470L114.00,25M-323.00,470L122.00,25M-315.00,470L130.00,25M-307.00,470L138.00,25M-299.00,470L146.00,25M-291.00,470L154.00,25M-283.00,470L162.00,25M-275.00,470L170.00,25M-267.00,470L178.00,25M-259.00,470L186.00,25M-251.00,470L194.00,25M-243.00,470L202.00,25M-235.00,470L210.00,25M-227.00,470L218.00,25M-219.00,470L226.00,25M-211.00,470L234.00,25M-203.00,470L242.00,25M-195.00,470L250.00,25M-187.00,470L258.00,25M-179.00,470L266.00,25M-171.00,470L274.00,25M-163.00,470L282.00,25M-155.00,470L290.00,25M-147.00,470L298.00,25M-139.00,470L306.00,25M-131.00,470L314.00,25M-123.00,470L322.00,25M-115.00,470L330.00,25M-107.00,470L338.00,25M-99.00,470L346.00,25M-91.00,470L354.00,25M-83.00,470L362.00,25M-75.00,470L370.00,25M-67.00,470L378.00,25M-59.00,470L386.00,25M-51.00,470L394.00,25M-43.00,470L402.00,25M-35.00,470L410.00,25M-27.00,470L418.00,25M-19.00,470L426.00,25M-11.00,470L434.00,25M-3.00,470L442.00,25M5.00,470L450.00,25M13.00,470L458.00,25M21.00,470L466.00,25M29.00,470L474.00,25M37.00,470L482.00,25M45.00,470L490.00,25M53.00,470L498.00,25M61.00,470L506.00,25M69.00,470L514.00,25M77.00,470L522.00,25M85.00,470L530.00,25M93.00,470L538.00,25M101.00,470L546.00,25M109.00,470L554.00,25M117.00,470L562.00,25M125.00,470L570.00,25M133.00,470L578.00,25M141.00,470L586.00,25M149.00,470L594.00,25M157.00,470L602.00,25M165.00,470L610.00,25M173.00,470L618.00,25M181.00,470L626.00,25M189.00,470L634.00,25M197.00,470L642.00,25M205.00,470L650.00,25M213.00,470L658.00,25M221.00,470L666.00,25M229.00,470L674.00,25M237.00,470L682.00,25M245.00,470L690.00,25M253.00,470L698.00,25M261.00,470L706.00,25M269.00,470L714.00,25M277.00,470L722.00,25M285.00,470L730.00,25M293.00,470L738.00,25M301.00,470L746.00,25M309.00,470L754.00,25M317.00,470L762.00,25M325.00,470L770.00,25M333.00,470L778.00,25M341.00,470L786.00,25M349.00,470L794.00,25M357.00,470L802.00,25M365.00,470L810.00,25M373.00,470L818.00,25M381.00,470L826.00,25M389.00,470L834.00,25M397.00,470L842.00,25M405.00,470L850.00,25M413.00,470L858.00,25M421.00,470L866.00,25M429.00,470L874.00,25M437.00,470L882.00,25M445.00,470L890.00,25M453.00,470L898.00,25M461.00,470L906.00,25M469.00,470L914.00,25M477.00,470L922.00,25M485.00,470L930.00,25M493.00,470L938.00,25M501.00,470L946.00,25M509.00,470L954.00,25M517.00,470L962.00,25M525.00,470L970.00,25M533.00,470L978.00,25M541.00,470L986.00,25M549.00,470L994.00,25M557.00,470L1002.00,25M565.00,470L1010.00,25M573.00,470L1018.00,25" stroke="#ff00ff" stroke-width="0.72" fill="none"/>
<rect x="429.5" y="32.5" width="17" height="17" fill="none" stroke="#000" stroke-width="1"/>
<rect x="446.5" y="32.5" width="18" height="17" fill="none" stroke="#000" stroke-width="1"/>
<rect x="464.5" y="32.5" width="17" height="17" fill="none" stroke="#000" stroke-width="1"/>
<rect x="481.5" y="32.5" width="17" height="17" fill="none" stroke="#000" stroke-width="1"/>
<rect x="412.5" y="49.5" width="17" height="17" fill="none" stroke="#000" stroke-width="1"/>
<rect x="429.5" y="49.5" width="17" height="17" fill="none" stroke="#000" stroke-width="1"/>
<rect x="446.5" y="49.5" width="18" height="17" fill="none" stroke="#000" stroke-width="1"/>
<rect x="464.5" y="49.5" width="17" height="17" fill="none" stroke="#000" stroke-width="1"/>
<rect x="481.5" y="49.5" width="17" height="17" fill="none" stroke="#000" stroke-width="1"/>
<rect x="498.5" y="49.5" width="17" height="17" fill="none" stroke="#000" stroke-width="1"/>
<rect x="515.5" y="49.5" width="17" height="17" fill="none" stroke="#000" stroke-width="1"/>
<rect x="395.5" y="66.5" width="17" height="17" fill="none" stroke="#000" stroke-width="1"/>
<rect x="412.5" y="66.5" width="17" height="17" fill="none" stroke="#000" stroke-width="1"/>
<rect x="429.5" y="66.5" width="17" height="17" fill="none" stroke="#000" stroke-width="1"/>
<rect x="446.5" y="66.5" width="18" height="17" fill="none" stroke="#000" stroke-width="1"/>
<rect x="464.5" y="66.5" width="17" height="17" fill="none" stroke="#000" stroke-width="1"/>
<rect x="481.5" y="66.5" width="17" height="17" fill="none" stroke="#000" stroke-width="1"/>
<rect x="498.5" y="66.5" width="17" height="17" fill="none" stroke="#000" stroke-width="1"/>
<rect x="515.5" y="66.5" width="17" height="17" fill="none" stroke="#000" stroke-width="1"/>
<rect x="532.5" y="66.5" width="17" height="17" fill="none" stroke="#000" stroke-width="1"/>
<rect x="549.5" y="66.5" width="17" height="17" fill="none" stroke="#000" stroke-width="1"/>
<rect x="173.5" y="83.5" width="17" height="17" fill="none" stroke="#000" stroke-width="1"/>
<rect x="190.5" y="83.5" width="17" height="17" fill="none" stroke="#000" stroke-width="1"/>
<rect x="207.5" y="83.5" width="17" height="17" fill="none" stroke="#000" stroke-width="1"/>
<rect x="224.5" y="83.5" width="17" height="17" fill="none" stroke="#000" stroke-width="1"/>
<rect x="241.5" y="83.5" width="17" height="17" fill="none" stroke="#000" stroke-width="1"/>
<rect x="258.5" y="83.5" width="17" height="17" fill="none" stroke="#000" stroke-width="1"/>
<rect x="275.5" y="83.5" width="17" height="17" fill="none" stroke="#000" stroke-width="1"/>
<rect x="292.5" y="83.5" width="18" height="17" fill="none" stroke="#000" stroke-width="1"/>
<rect x="310.5" y="83.5" width="17" height="17" fill="none" stroke="#000" stroke-width="1"/>
<rect x="327.5" y="83.5" width="17" height="17" fill="none" stroke="#000" stroke-width="1"/>
<rect x="344.5" y="83.5" width="17" height="17" fill="none" stroke="#000" stroke-width="1"/>
<rect x="361.5" y="83.5" width="17" height="17" fill="none" stroke="#000" stroke-width="1"/>
<rect x="378.5" y="83.5" width="17" height="17" fill="none" stroke="#000" stroke-width="1"/>
<rect x="395.5" y="83.5" width="17" height="17" fill="none" stroke="#000" stroke-width="1"/>
<rect x="412.5" y="83.5" width="17" height="17" fill="none" stroke="#000" stroke-width="1"/>
<rect x="429.5" y="83.5" width="17" height="17" fill="none" stroke="#000" stroke-width="1"/>
<rect x="446.5" y="83.5" width="18" height="17" fill="none" stroke="#000" stroke-width="1"/>
<rect x="464.5" y="83.5" width="17" height="17" fill="none" stroke="#000" stroke-width="1"/>
<rect x="481.5" y="83.5" width="17" height="17" fill="none" stroke="#000" stroke-width="1"/>
<rect x="498.5" y="83.5" width="17" height="17" fill="none" stroke="#000" stroke-width="1"/>
<rect x="515.5" y="83.5" width="17" height="17" fill="none" stroke="#000" stroke-width="1"/>
<rect x="532.5" y="83.5" width="17" height="17" fill="none" stroke="#000" stroke-width="1"/>
<rect x="549.5" y="83.5" width="17" height="17" fill="none" stroke="#000" stroke-width="1"/>
<rect x="566.5" y="83.5" width="17" height="17" fill="none" stroke="#000" stroke-width="1"/>
<rect x="583.5" y="83.5" width="17" height="17" fill="none" stroke="#000" stroke-width="1"/>
<rect x="600.5" y="83.5" width="18" height="17" fill="none" stroke="#000" stroke-width="1"/>
<rect x="173.5" y="100.5" width="17" height="18" fill="none" stroke="#000" stroke-width="1"/>
<rect x="190.5" y="100.5" width="17" height="18" fill="none" stroke="#000" stroke-width="1"/>
<rect x="207.5" y="100.5" width="17" height="18" fill="none" stroke="#000" stroke-width="1"/>
<rect x="224.5" y="100.5" width="17" height="18" fill="none" stroke="#000" stroke-width="1"/>
<rect x="241.5" y="100.5" width="17" height="18" fill="none" stroke="#000" stroke-width="1"/>
<rect x="258.5" y="100.5" width="17" height="18" fill="none" stroke="#000" stroke-width="1"/>
<rect x="275.5" y="100.5" width="17" height="18" fill="none" stroke="#000" stroke-width="1"/>
<rect x="292.5" y="100.5" width="18" height="18" fill="none" stroke="#000" stroke-width="1"/>
<rect x="310.5" y="100.5" width="17" height="18" fill="none" stroke="#000" stroke-width="1"/>
<rect x="327.5" y="100.5" width="17" height="18" fill="none" stroke="#000" stroke-width="1"/>
<rect x="344.5" y="100.5" width="17" height="18" fill="none" stroke="#000" stroke-width="1"/>
<rect x="361.5" y="100.5" width="17" height="18" fill="none" stroke="#000" stroke-width="1"/>
<rect x="378.5" y="100.5" width="17" height="18" fill="none" stroke="#000" stroke-width="1"/>
<rect x="395.5" y="100.5" width="17" height="18" fill="none" stroke="#000" stroke-width="1"/>
<rect x="412.5" y="100.5" width="17" height="18" fill="none" stroke="#000" stroke-width="1"/>
<rect x="429.5" y="100.5" width="17" height="18" fill="none" stroke="#000" stroke-width="1"/>
<rect x="446.5" y="100.5" width="18" height="18" fill="none" stroke="#000" stroke-width="1"/>
<rect x="464.5" y="100.5" width="17" height="18" fill="none" stroke="#000" stroke-width="1"/>
<rect x="481.5" y="100.5" width="17" height="18" fill="none" stroke="#000" stroke-width="1"/>
<rect x="498.5" y="100.5" width="17" height="18" fill="none" stroke="#000" stroke-width="1"/>
<rect x="515.5" y="100.5" width="17" height="18" fill="none" stroke="#000" stroke-width="1"/>
<rect x="532.5" y="100.5" width="17" height="18" fill="none" stroke="#000" stroke-width="1"/>
<rect x="549.5" y="100.5" width="17" height="18" fill="none" stroke="#000" stroke-width="1"/>
<rect x="566.5" y="100.5" width="17" height="18" fill="none" stroke="#000" stroke-width="1"/>
<rect x="583.5" y="100.5" width="17" height="18" fill="none" stroke="#000" stroke-width="1"/>
<rect x="600.5" y="100.5" width="18" height="18" fill="none" stroke="#000" stroke-width="1"/>
<rect x="618.5" y="100.5" width="17" height="18" fill="none" stroke="#000" stroke-width="1"/>
<rect x="635.5" y="100.5" width="17" height="18" fill="none" stroke="#000" stroke-width="1"/>
<rect x="173.5" y="118.5" width="17" height="17" fill="none" stroke="#000" stroke-width="1"/>
<rect x="190.5" y="118.5" width="17" height="17" fill="none" stroke="#000" stroke-width="1"/>
<rect x="207.5" y="118.5" width="17" height="17" fill="none" stroke="#000" stroke-width="1"/>
<rect x="224.5" y="118.5" width="17" height="17" fill="none" stroke="#000" stroke-width="1"/>
<rect x="241.5" y="118.5" width="17" height="17" fill="none" stroke="#000" stroke-width="1"/>
<rect x="258.5" y="118.5" width="17" height="17" fill="none" stroke="#000" stroke-width="1"/>
<rect x="275.5" y="118.5" width="17" height="17" fill="none" stroke="#000" stroke-width="1"/>
<rect x="292.5" y="118.5" width="18" height="17" fill="none" stroke="#000" stroke-width="1"/>
<rect x="310.5" y="118.5" width="17" height="17" fill="none" stroke="#000" stroke-width="1"/>
<rect x="327.5" y="118.5" width="17" height="17" fill="none" stroke="#000" stroke-width="1"/>
<rect x="344.5" y="118.5" width="17" height="17" fill="none" stroke="#000" stroke-width="1"/>
<rect x="361.5" y="118.5" width="17" height="17" fill="none" stroke="#000" stroke-width="1"/>
<rect x="378.5" y="118.5" width="17" height="17" fill="none" stroke="#000" stroke-width="1"/>
<rect x="395.5" y="118.5" width="17" height="17" fill="none" stroke="#000" stroke-width="1"/>
<rect x="412.5" y="118.5" width="17" height="17" fill="none" stroke="#000" stroke-width="1"/>
<rect x="429.5" y="118.5" width="17" height="17" fill="none" stroke="#000" stroke-width="1"/>
<rect x="446.5" y="118.5" width="18" height="17" fill="none" stroke="#000" stroke-width="1"/>
<rect x="464.5" y="118.5" width="17" height="17" fill="none" stroke="#000" stroke-width="1"/>
<rect x="481.5" y="118.5" width="17" height="17" fill="none" stroke="#000" stroke-width="1"/>
<rect x="498.5" y="118.5" width="17" height="17" fill="none" stroke="#000" stroke-width="1"/>
<rect x="515.5" y="118.5" width="17" height="17" fill="none" stroke="#000" stroke-width="1"/>
<rect x="532.5" y="118.5" width="17" height="17" fill="none" stroke="#000" stroke-width="1"/>
<rect x="549.5" y="118.5" width="17" height="17" fill="none" stroke="#000" stroke-width="1"/>
<rect x="566.5" y="118.5" width="17" height="17" fill="none" stroke="#000" stroke-width="1"/>
<rect x="583.5" y="118.5" width="17" height="17" fill="none" stroke="#000" stroke-width="1"/>
<rect x="600.5" y="118.5" width="18" height="17" fill="none" stroke="#000" stroke-width="1"/>
<rect x="618.5" y="118.5" width="17" height="17" fill="none" stroke="#000" stroke-width="1"/>
<rect x="635.5" y="118.5" width="17" height="17" fill="none" stroke="#000" stroke-width="1"/>
<rect x="652.5" y="118.5" width="17" height="17" fill="none" stroke="#000" stroke-width="1"/>
<rect x="669.5" y="118.5" width="17" height="17" fill="none" stroke="#000" stroke-width="1"/>
<rect x="156.5" y="135.5" width="17" height="17" fill="none" stroke="#000" stroke-width="1"/>
<rect x="173.5" y="135.5" width="17" height="17" fill="none" stroke="#000" stroke-width="1"/>
<rect x="190.5" y="135.5" width="17" height="17" fill="none" stroke="#000" stroke-width="1"/>
<rect x="207.5" y="135.5" width="17" height="17" fill="none" stroke="#000" stroke-width="1"/>
<rect x="224.5" y="135.5" width="17" height="17" fill="none" stroke="#000" stroke-width="1"/>
<rect x="241.5" y="135.5" width="17" height="17" fill="none" stroke="#000" stroke-width="1"/>
<rect x="258.5" y="135.5" width="17" height="17" fill="none" stroke="#000" stroke-width="1"/>
<rect x="275.5" y="135.5" width="17" height="17" fill="none" stroke="#000" stroke-width="1"/>
<rect x="292.5" y="135.5" width="18" height="17" fill="none" stroke="#000" stroke-width="1"/>
<rect x="310.5" y="135.5" width="17" height="17" fill="none" stroke="#000" stroke-width="1"/>
<rect x="327.5" y="135.5" width="17" height="17" fill="none" stroke="#000" stroke-width="1"/>
<rect x="344.5" y="135.5" width="17" height="17" fill="none" stroke="#000" stroke-width="1"/>
<rect x="361.5" y="135.5" width="17" height="17" fill="none" stroke="#000" stroke-width="1"/>
<rect x="378.5" y="135.5" width="17" height="17" fill="none" stroke="#000" stroke-width="1"/>
<rect x="395.5" y="135.5" width="17" height="17" fill="none" stroke="#000" stroke-width="1"/>
<rect x="412.5" y="135.5" width="17" height="17" fill="none" stroke="#000" stroke-width="1"/>
<rect x="429.5" y="135.5" width="17" height="17" fill="none" stroke="#000" stroke-width="1"/>
<rect x="446.5" y="135.5" width="18" height="17" fill="none" stroke="#000" stroke-width="1"/>
<rect x="464.5" y="135.5" width="17" height="17" fill="none" stroke="#000" stroke-width="1"/>
<rect x="481.5" y="135.5" width="17" height="17" fill="none" stroke="#000" stroke-width="1"/>
<rect x="498.5" y="135.5" width="17" height="17" fill="none" stroke="#000" stroke-width="1"/>
<rect x="515.5" y="135.5" width="17" height="17" fill="none" stroke="#000" stroke-width="1"/>
<rect x="532.5" y="135.5" width="17" height="17" fill="none" stroke="#000" stroke-width="1"/>
<rect x="549.5" y="135.5" width="17" height="17" fill="none" stroke="#000" stroke-width="1"/>
<rect x="566.5" y="135.5" width="17" height="17" fill="none" stroke="#000" stroke-width="1"/>
<rect x="583.5" y="135.5" width="17" height="17" fill="none" stroke="#000" stroke-width="1"/>
<rect x="600.5" y="135.5" width="18" height="17" fill="none" stroke="#000" stroke-width="1"/>
<rect x="618.5" y="135.5" width="17" height="17" fill="none" stroke="#000" stroke-width="1"/>
<rect x="635.5" y="135.5" width="17" height="17" fill="none" stroke="#000" stroke-width="1"/>
<rect x="652.5" y="135.5" width="17" height="17" fill="none" stroke="#000" stroke-width="1"/>
<rect x="669.5" y="135.5" width="17" height="17" fill="none" stroke="#000" stroke-width="1"/>
<rect x="686.5" y="135.5" width="17" height="17" fill="none" stroke="#000" stroke-width="1"/>
<rect x="156.5" y="152.5" width="17" height="17" fill="none" stroke="#000" stroke-width="1"/>
<rect x="173.5" y="152.5" width="17" height="17" fill="none" stroke="#000" stroke-width="1"/>
<rect x="190.5" y="152.5" width="17" height="17" fill="none" stroke="#000" stroke-width="1"/>
<rect x="207.5" y="152.5" width="17" height="17" fill="none" stroke="#000" stroke-width="1"/>
<rect x="224.5" y="152.5" width="17" height="17" fill="none" stroke="#000" stroke-width="1"/>
<rect x="241.5" y="152.5" width="17" height="17" fill="none" stroke="#000" stroke-width="1"/>
<rect x="258.5" y="152.5" width="17" height="17" fill="none" stroke="#000" stroke-width="1"/>
<rect x="275.5" y="152.5" width="17" height="17" fill="none" stroke="#000" stroke-width="1"/>
<rect x="292.5" y="152.5" width="18" height="17" fill="none" stroke="#000" stroke-width="1"/>
<rect x="310.5" y="152.5" width="17" height="17" fill="none" stroke="#000" stroke-width="1"/>
<rect x="327.5" y="152.5" width="17" height="17" fill="none" stroke="#000" stroke-width="1"/>
<rect x="344.5" y="152.5" width="17" height="17" fill="none" stroke="#000" stroke-width="1"/>
<rect x="361.5" y="152.5" width="17" height="17" fill="none" stroke="#000" stroke-width="1"/>
<rect x="378.5" y="152.5" width="17" height="17" fill="none" stroke="#000" stroke-width="1"/>
<rect x="395.5" y="152.5" width="17" height="17" fill="none" stroke="#000" stroke-width="1"/>
<rect x="412.5" y="152.5" width="17" height="17" fill="none" stroke="#000" stroke-width="1"/>
<rect x="429.5" y="152.5" width="17" height="17" fill="none" stroke="#000" stroke-width="1"/>
<rect x="446.5" y="152.5" width="18" height="17" fill="none" stroke="#000" stroke-width="1"/>
<rect x="464.5" y="152.5" width="17" height="17" fill="none" stroke="#000" stroke-width="1"/>
<rect x="481.5" y="152.5" width="17" height="17" fill="none" stroke="#000" stroke-width="1"/>
<rect x="498.5" y="152.5" width="17" height="17" fill="none" stroke="#000" stroke-width="1"/>
<rect x="515.5" y="152.5" width="17" height="17" fill="none" stroke="#000" stroke-width="1"/>
<rect x="532.5" y="152.5" width="17" height="17" fill="none" stroke="#000" stroke-width="1"/>
<rect x="549.5" y="152.5" width="17" height="17" fill="none" stroke="#000" stroke-width="1"/>
<rect x="566.5" y="152.5" width="17" height="17" fill="none" stroke="#000" stroke-width="1"/>
<rect x="583.5" y="152.5" width="17" height="17" fill="none" stroke="#000" stroke-width="1"/>
<rect x="600.5" y="152.5" width="18" height="17" fill="none" stroke="#000" stroke-width="1"/>
<rect x="618.5" y="152.5" width="17" height="17" fill="none" stroke="#000" stroke-width="1"/>
<rect x="635.5" y="152.5" width="17" height="17" fill="none" stroke="#000" stroke-width="1"/>
<rect x="652.5" y="152.5" width="17" height="17" fill="none" stroke="#000" stroke-width="1"/>
<rect x="669.5" y="152.5" width="17" height="17" fill="none" stroke="#000" stroke-width="1"/>
<rect x="686.5" y="152.5" width="17" height="17" fill="none" stroke="#000" stroke-width="1"/>
<rect x="156.5" y="169.5" width="17" height="17" fill="none" stroke="#000" stroke-width="1"/>
<rect x="173.5" y="169.5" width="17" height="17" fill="none" stroke="#000" stroke-width="1"/>
<rect x="190.5" y="169.5" width="17" height="17" fill="none" stroke="#000" stroke-width="1"/>
<rect x="207.5" y="169.5" width="17" height="17" fill="none" stroke="#000" stroke-width="1"/>
<rect x="224.5" y="169.5" width="17" height="17" fill="none" stroke="#000" stroke-width="1"/>
<rect x="241.5" y="169.5" width="17" height="17" fill="none" stroke="#000" stroke-width="1"/>
<rect x="258.5" y="169.5" width="17" height="17" fill="none" stroke="#000" stroke-width="1"/>
<rect x="275.5" y="169.5" width="17" height="17" fill="none" stroke="#000" stroke-width="1"/>
<rect x="292.5" y="169.5" width="18" height="17" fill="none" stroke="#000" stroke-width="1"/>
<rect x="310.5" y="169.5" width="17" height="17" fill="none" stroke="#000" stroke-width="1"/>
<rect x="327.5" y="169.5" width="17" height="17" fill="none" stroke="#000" stroke-width="1"/>
<rect x="344.5" y="169.5" width="17" height="17" fill="none" stroke="#000" stroke-width="1"/>
<rect x="361.5" y="169.5" width="17" height="17" fill="none" stroke="#000" stroke-width="1"/>
<rect x="378.5" y="169.5" width="17" height="17" fill="none" stroke="#000" stroke-width="1"/>
<rect x="395.5" y="169.5" width="17" height="17" fill="none" stroke="#000" stroke-width="1"/>
<rect x="412.5" y="169.5" width="17" height="17" fill="none" stroke="#000" stroke-width="1"/>
<rect x="429.5" y="169.5" width="17" height="17" fill="none" stroke="#000" stroke-width="1"/>
<rect x="446.5" y="169.5" width="18" height="17" fill="none" stroke="#000" stroke-width="1"/>
<rect x="464.5" y="169.5" width="17" height="17" fill="none" stroke="#000" stroke-width="1"/>
<rect x="481.5" y="169.5" width="17" height="17" fill="none" stroke="#000" stroke-width="1"/>
<rect x="498.5" y="169.5" width="17" height="17" fill="none" stroke="#000" stroke-width="1"/>
<rect x="515.5" y="169.5" width="17" height="17" fill="none" stroke="#000" stroke-width="1"/>
<rect x="532.5" y="169.5" width="17" height="17" fill="none" stroke="#000" stroke-width="1"/>
<rect x="549.5" y="169.5" width="17" height="17" fill="none" stroke="#000" stroke-width="1"/>
<rect x="566.5" y="169.5" width="17" height="17" fill="none" stroke="#000" stroke-width="1"/>
<rect x="583.5" y="169.5" width="17" height="17" fill="none" stroke="#000" stroke-width="1"/>
<rect x="600.5" y="169.5" width="18" height="17" fill="none" stroke="#000" stroke-width="1"/>
<rect x="618.5" y="169.5" width="17" height="17" fill="none" stroke="#000" stroke-width="1"/>
<rect x="635.5" y="169.5" width="17" height="17" fill="none" stroke="#000" stroke-width="1"/>
<rect x="652.5" y="169.5" width="17" height="17" fill="none" stroke="#000" stroke-width="1"/>
<rect x="669.5" y="169.5" width="17" height="17" fill="none" stroke="#000" stroke-width="1"/>
<rect x="686.5" y="169.5" width="17" height="17" fill="none" stroke="#000" stroke-width="1"/>
<rect x="703.5" y="169.5" width="17" height="17" fill="none" stroke="#000" stroke-width="1"/>
<rect x="138.5" y="186.5" width="18" height="17" fill="none" stroke="#000" stroke-width="1"/>
<rect x="156.5" y="186.5" width="17" height="17" fill="none" stroke="#000" stroke-width="1"/>
<rect x="173.5" y="186.5" width="17" height="17" fill="none" stroke="#000" stroke-width="1"/>
<rect x="190.5" y="186.5" width="17" height="17" fill="none" stroke="#000" stroke-width="1"/>
<rect x="207.5" y="186.5" width="17" height="17" fill="none" stroke="#000" stroke-width="1"/>
<rect x="224.5" y="186.5" width="17" height="17" fill="none" stroke="#000" stroke-width="1"/>
<rect x="241.5" y="186.5" width="17" height="17" fill="none" stroke="#000" stroke-width="1"/>
<rect x="258.5" y="186.5" width="17" height="17" fill="none" stroke="#000" stroke-width="1"/>
<rect x="275.5" y="186.5" width="17" height="17" fill="none" stroke="#000" stroke-width="1"/>
<rect x="292.5" y="186.5" width="18" height="17" fill="none" stroke="#000" stroke-width="1"/>
<rect x="310.5" y="186.5" width="17" height="17" fill="none" stroke="#000" stroke-width="1"/>
<rect x="327.5" y="186.5" width="17" height="17" fill="none" stroke="#000" stroke-width="1"/>
<rect x="344.5" y="186.5" width="17" height="17" fill="none" stroke="#000" stroke-width="1"/>
<rect x="361.5" y="186.5" width="17" height="17" fill="none" stroke="#000" stroke-width="1"/>
<rect x="378.5" y="186.5" width="17" height="17" fill="none" stroke="#000" stroke-width="1"/>
<rect x="395.5" y="186.5" width="17" height="17" fill="none" stroke="#000" stroke-width="1"/>
<rect x="412.5" y="186.5" width="17" height="17" fill="none" stroke="#000" stroke-width="1"/>
<rect x="429.5" y="186.5" width="17" height="17" fill="none" stroke="#000" stroke-width="1"/>
<rect x="446.5" y="186.5" width="18" height="17" fill="none" stroke="#000" stroke-width="1"/>
<rect x="464.5" y="186.5" width="17" height="17" fill="none" stroke="#000" stroke-width="1"/>
<rect x="481.5" y="186.5" width="17" height="17" fill="none" stroke="#000" stroke-width="1"/>
<rect x="498.5" y="186.5" width="17" height="17" fill="none" stroke="#000" stroke-width="1"/>
<rect x="515.5" y="186.5" width="17" height="17" fill="none" stroke="#000" stroke-width="1"/>
<rect x="532.5" y="186.5" width="17" height="17" fill="none" stroke="#000" stroke-width="1"/>
<rect x="549.5" y="186.5" width="17" height="17" fill="none" stroke="#000" stroke-width="1"/>
<rect x="566.5" y="186.5" width="17" height="17" fill="none" stroke="#000" stroke-width="1"/>
<rect x="583.5" y="186.5" width="17" height="17" fill="none" stroke="#000" stroke-width="1"/>
<rect x="600.5" y="186.5" width="18" height="17" fill="none" stroke="#000" stroke-width="1"/>
<rect x="618.5" y="186.5" width="17" height="17" fill="none" stroke="#000" stroke-width="1"/>
<rect x="635.5" y="186.5" width="17" height="17" fill="none" stroke="#000" stroke-width="1"/>
<rect x="652.5" y="186.5" width="17" height="17" fill="none" stroke="#000" stroke-width="1"/>
<rect x="669.5" y="186.5" width="17" height="17" fill="none" stroke="#000" stroke-width="1"/>
<rect x="686.5" y="186.5" width="17" height="17" fill="none" stroke="#000" stroke-width="1"/>
<rect x="703.5" y="186.5" width="17" height="17" fill="none" stroke="#000" stroke-width="1"/>
<rect x="138.5" y="203.5" width="18" height="17" fill="none" stroke="#000" stroke-width="1"/>
<rect x="156.5" y="203.5" width="17" height="17" fill="none" stroke="#000" stroke-width="1"/>
<rect x="173.5" y="203.5" width="17" height="17" fill="none" stroke="#000" stroke-width="1"/>
<rect x="190.5" y="203.5" width="17" height="17" fill="none" stroke="#000" stroke-width="1"/>
<rect x="207.5" y="203.5" width="17" height="17" fill="none" stroke="#000" stroke-width="1"/>
<rect x="224.5" y="203.5" width="17" height="17" fill="none" stroke="#000" stroke-width="1"/>
<rect x="241.5" y="203.5" width="17" height="17" fill="none" stroke="#000" stroke-width="1"/>
<rect x="258.5" y="203.5" width="17" height="17" fill="none" stroke="#000" stroke-width="1"/>
<rect x="275.5" y="203.5" width="17" height="17" fill="none" stroke="#000" stroke-width="1"/>
<rect x="292.5" y="203.5" width="18" height="17" fill="none" stroke="#000" stroke-width="1"/>
<rect x="310.5" y="203.5" width="17" height="17" fill="none" stroke="#000" stroke-width="1"/>
<rect x="327.5" y="203.5" width="17" height="17" fill="none" stroke="#000" stroke-width="1"/>
<rect x="344.5" y="203.5" width="17" height="17" fill="none" stroke="#000" stroke-width="1"/>
<rect x="361.5" y="203.5" width="17" height="17" fill="none" stroke="#000" stroke-width="1"/>
<rect x="378.5" y="203.5" width="17" height="17" fill="none" stroke="#000" stroke-width="1"/>
<rect x="395.5" y="203.5" width="17" height="17" fill="none" stroke="#000" stroke-width="1"/>
<rect x="412.5" y="203.5" width="17" height="17" fill="none" stroke="#000" stroke-width="1"/>
<rect x="429.5" y="203.5" width="17" height="17" fill="none" stroke="#000" stroke-width="1"/>
<rect x="446.5" y="203.5" width="18" height="17" fill="none" stroke="#000" stroke-width="1"/>
<rect x="464.5" y="203.5" width="17" height="17" fill="none" stroke="#000" stroke-width="1"/>
<rect x="481.5" y="203.5" width="17" height="17" fill="none" stroke="#000" stroke-width="1"/>
<rect x="498.5" y="203.5" width="17" height="17" fill="none" stroke="#000" stroke-width="1"/>
<rect x="515.5" y="203.5" width="17" height="17" fill="none" stroke="#000" stroke-width="1"/>
<rect x="532.5" y="203.5" width="17" height="17" fill="none" stroke="#000" stroke-width="1"/>
<rect x="549.5" y="203.5" width="17" height="17" fill="none" stroke="#000" stroke-width="1"/>
<rect x="566.5" y="203.5" width="17" height="17" fill="none" stroke="#000" stroke-width="1"/>
<rect x="583.5" y="203.5" width="17" height="17" fill="none" stroke="#000" stroke-width="1"/>
<rect x="600.5" y="203.5" width="18" height="17" fill="none" stroke="#000" stroke-width="1"/>
<rect x="618.5" y="203.5" width="17" height="17" fill="none" stroke="#000" stroke-width="1"/>
<rect x="635.5" y="203.5" width="17" height="17" fill="none" stroke="#000" stroke-width="1"/>
<rect x="652.5" y="203.5" width="17" height="17" fill="none" stroke="#000" stroke-width="1"/>
<rect x="669.5" y="203.5" width="17" height="17" fill="none" stroke="#000" stroke-width="1"/>
<rect x="686.5" y="203.5" width="17" height="17" fill="none" stroke="#000" stroke-width="1"/>
<rect x="703.5" y="203.5" width="17" height="17" fill="none" stroke="#000" stroke-width="1"/>
<rect x="138.5" y="220.5" width="18" height="17" fill="none" stroke="#000" stroke-width="1"/>
<rect x="156.5" y="220.5" width="17" height="17" fill="none" stroke="#000" stroke-width="1"/>
<rect x="173.5" y="220.5" width="17" height="17" fill="none" stroke="#000" stroke-width="1"/>
<rect x="190.5" y="220.5" width="17" height="17" fill="none" stroke="#000" stroke-width="1"/>
<rect x="207.5" y="220.5" width="17" height="17" fill="none" stroke="#000" stroke-width="1"/>
<rect x="224.5" y="220.5" width="17" height="17" fill="none" stroke="#000" stroke-width="1"/>
<rect x="241.5" y="220.5" width="17" height="17" fill="none" stroke="#000" stroke-width="1"/>
<rect x="258.5" y="220.5" width="17" height="17" fill="none" stroke="#000" stroke-width="1"/>
<rect x="275.5" y="220.5" width="17" height="17" fill="none" stroke="#000" stroke-width="1"/>
<rect x="292.5" y="220.5" width="18" height="17" fill="none" stroke="#000" stroke-width="1"/>
<rect x="310.5" y="220.5" width="17" height="17" fill="none" stroke="#000" stroke-width="1"/>
<rect x="327.5" y="220.5" width="17" height="17" fill="none" stroke="#000" stroke-width="1"/>
<rect x="344.5" y="220.5" width="17" height="17" fill="none" stroke="#000" stroke-width="1"/>
<rect x="361.5" y="220.5" width="17" height="17" fill="none" stroke="#000" stroke-width="1"/>
<rect x="378.5" y="220.5" width="17" height="17" fill="none" stroke="#000" stroke-width="1"/>
<rect x="395.5" y="220.5" width="17" height="17" fill="none" stroke="#000" stroke-width="1"/>
<rect x="412.5" y="220.5" width="17" height="17" fill="none" stroke="#000" stroke-width="1"/>
<rect x="429.5" y="220.5" width="17" height="17" fill="none" stroke="#000" stroke-width="1"/>
<rect x="446.5" y="220.5" width="18" height="17" fill="none" stroke="#000" stroke-width="1"/>
<rect x="464.5" y="220.5" width="17" height="17" fill="none" stroke="#000" stroke-width="1"/>
<rect x="481.5" y="220.5" width="17" height="17" fill="none" stroke="#000" stroke-width="1"/>
<rect x="498.5" y="220.5" width="17" height="17" fill="none" stroke="#000" stroke-width="1"/>
<rect x="515.5" y="220.5" width="17" height="17" fill="none" stroke="#000" stroke-width="1"/>
<rect x="532.5" y="220.5" width="17" height="17" fill="none" stroke="#000" stroke-width="1"/>
<rect x="549.5" y="220.5" width="17" height="17" fill="none" stroke="#000" stroke-width="1"/>
<rect x="566.5" y="220.5" width="17" height="17" fill="none" stroke="#000" stroke-width="1"/>
<rect x="583.5" y="220.5" width="17" height="17" fill="none" stroke="#000" stroke-width="1"/>
<rect x="600.5" y="220.5" width="18" height="17" fill="none" stroke="#000" stroke-width="1"/>
<rect x="618.5" y="220.5" width="17" height="17" fill="none" stroke="#000" stroke-width="1"/>
<rect x="635.5" y="220.5" width="17" height="17" fill="none" stroke="#000" stroke-width="1"/>
<rect x="652.5" y="220.5" width="17" height="17" fill="none" stroke="#000" stroke-width="1"/>
<rect x="669.5" y="220.5" width="17" height="17" fill="none" stroke="#000" stroke-width="1"/>
<rect x="686.5" y="220.5" width="17" height="17" fill="none" stroke="#000" stroke-width="1"/>
<rect x="703.5" y="220.5" width="17" height="17" fill="none" stroke="#000" stroke-width="1"/>
<rect x="121.5" y="237.5" width="17" height="17" fill="none" stroke="#000" stroke-width="1"/>
<rect x="138.5" y="237.5" width="18" height="17" fill="none" stroke="#000" stroke-width="1"/>
<rect x="156.5" y="237.5" width="17" height="17" fill="none" stroke="#000" stroke-width="1"/>
<rect x="173.5" y="237.5" width="17" height="17" fill="none" stroke="#000" stroke-width="1"/>
<rect x="190.5" y="237.5" width="17" height="17" fill="none" stroke="#000" stroke-width="1"/>
<rect x="207.5" y="237.5" width="17" height="17" fill="none" stroke="#000" stroke-width="1"/>
<rect x="224.5" y="237.5" width="17" height="17" fill="none" stroke="#000" stroke-width="1"/>
<rect x="241.5" y="237.5" width="17" height="17" fill="none" stroke="#000" stroke-width="1"/>
<rect x="258.5" y="237.5" width="17" height="17" fill="none" stroke="#000" stroke-width="1"/>
<rect x="275.5" y="237.5" width="17" height="17" fill="none" stroke="#000" stroke-width="1"/>
<rect x="292.5" y="237.5" width="18" height="17" fill="none" stroke="#000" stroke-width="1"/>
<rect x="310.5" y="237.5" width="17" height="17" fill="none" stroke="#000" stroke-width="1"/>
<rect x="327.5" y="237.5" width="17" height="17" fill="none" stroke="#000" stroke-width="1"/>
<rect x="344.5" y="237.5" width="17" height="17" fill="none" stroke="#000" stroke-width="1"/>
<rect x="361.5" y="237.5" width="17" height="17" fill="none" stroke="#000" stroke-width="1"/>
<rect x="378.5" y="237.5" width="17" height="17" fill="none" stroke="#000" stroke-width="1"/>
<rect x="395.5" y="237.5" width="17" height="17" fill="none" stroke="#000" stroke-width="1"/>
<rect x="412.5" y="237.5" width="17" height="17" fill="none" stroke="#000" stroke-width="1"/>
<rect x="429.5" y="237.5" width="17" height="17" fill="none" stroke="#000" stroke-width="1"/>
<rect x="446.5" y="237.5" width="18" height="17" fill="none" stroke="#000" stroke-width="1"/>
<rect x="464.5" y="237.5" width="17" height="17" fill="none" stroke="#000" stroke-width="1"/>
<rect x="481.5" y="237.5" width="17" height="17" fill="none" stroke="#000" stroke-width="1"/>
<rect x="498.5" y="237.5" width="17" height="17" fill="none" stroke="#000" stroke-width="1"/>
<rect x="515.5" y="237.5" width="17" height="17" fill="none" stroke="#000" stroke-width="1"/>
<rect x="532.5" y="237.5" width="17" height="17" fill="none" stroke="#000" stroke-width="1"/>
<rect x="549.5" y="237.5" width="17" height="17" fill="none" stroke="#000" stroke-width="1"/>
<rect x="566.5" y="237.5" width="17" height="17" fill="none" stroke="#000" stroke-width="1"/>
<rect x="583.5" y="237.5" width="17" height="17" fill="none" stroke="#000" stroke-width="1"/>
<rect x="600.5" y="237.5" width="18" height="17" fill="none" stroke="#000" stroke-width="1"/>
<rect x="618.5" y="237.5" width="17" height="17" fill="none" stroke="#000" stroke-width="1"/>
<rect x="635.5" y="237.5" width="17" height="17" fill="none" stroke="#000" stroke-width="1"/>
<rect x="652.5" y="237.5" width="17" height="17" fill="none" stroke="#000" stroke-width="1"/>
<rect x="669.5" y="237.5" width="17" height="17" fill="none" stroke="#000" stroke-width="1"/>
<rect x="686.5" y="237.5" width="17" height="17" fill="none" stroke="#000" stroke-width="1"/>
<rect x="703.5" y="237.5" width="17" height="17" fill="none" stroke="#000" stroke-width="1"/>
<rect x="720.5" y="237.5" width="17" height="17" fill="none" stroke="#000" stroke-width="1"/>
<rect x="121.5" y="254.5" width="17" height="18" fill="none" stroke="#000" stroke-width="1"/>
<rect x="138.5" y="254.5" width="18" height="18" fill="none" stroke="#000" stroke-width="1"/>
<rect x="156.5" y="254.5" width="17" height="18" fill="none" stroke="#000" stroke-width="1"/>
<rect x="173.5" y="254.5" width="17" height="18" fill="none" stroke="#000" stroke-width="1"/>
<rect x="190.5" y="254.5" width="17" height="18" fill="none" stroke="#000" stroke-width="1"/>
<rect x="207.5" y="254.5" width="17" height="18" fill="none" stroke="#000" stroke-width="1"/>
<rect x="224.5" y="254.5" width="17" height="18" fill="none" stroke="#000" stroke-width="1"/>
<rect x="241.5" y="254.5" width="17" height="18" fill="none" stroke="#000" stroke-width="1"/>
<rect x="258.5" y="254.5" width="17" height="18" fill="none" stroke="#000" stroke-width="1"/>
<rect x="275.5" y="254.5" width="17" height="18" fill="none" stroke="#000" stroke-width="1"/>
<rect x="292.5" y="254.5" width="18" height="18" fill="none" stroke="#000" stroke-width="1"/>
<rect x="310.5" y="254.5" width="17" height="18" fill="none" stroke="#000" stroke-width="1"/>
<rect x="327.5" y="254.5" width="17" height="18" fill="none" stroke="#000" stroke-width="1"/>
<rect x="344.5" y="254.5" width="17" height="18" fill="none" stroke="#000" stroke-width="1"/>
<rect x="361.5" y="254.5" width="17" height="18" fill="none" stroke="#000" stroke-width="1"/>
<rect x="378.5" y="254.5" width="17" height="18" fill="none" stroke="#000" stroke-width="1"/>
<rect x="395.5" y="254.5" width="17" height="18" fill="none" stroke="#000" stroke-width="1"/>
<rect x="412.5" y="254.5" width="17" height="18" fill="none" stroke="#000" stroke-width="1"/>
<rect x="429.5" y="254.5" width="17" height="18" fill="none" stroke="#000" stroke-width="1"/>
<rect x="446.5" y="254.5" width="18" height="18" fill="none" stroke="#000" stroke-width="1"/>
<rect x="464.5" y="254.5" width="17" height="18" fill="none" stroke="#000" stroke-width="1"/>
<rect x="481.5" y="254.5" width="17" height="18" fill="none" stroke="#000" stroke-width="1"/>
<rect x="498.5" y="254.5" width="17" height="18" fill="none" stroke="#000" stroke-width="1"/>
<rect x="515.5" y="254.5" width="17" height="18" fill="none" stroke="#000" stroke-width="1"/>
<rect x="532.5" y="254.5" width="17" height="18" fill="none" stroke="#000" stroke-width="1"/>
<rect x="549.5" y="254.5" width="17" height="18" fill="none" stroke="#000" stroke-width="1"/>
<rect x="566.5" y="254.5" width="17" height="18" fill="none" stroke="#000" stroke-width="1"/>
<rect x="583.5" y="254.5" width="17" height="18" fill="none" stroke="#000" stroke-width="1"/>
<rect x="600.5" y="254.5" width="18" height="18" fill="none" stroke="#000" stroke-width="1"/>
<rect x="618.5" y="254.5" width="17" height="18" fill="none" stroke="#000" stroke-width="1"/>
<rect x="635.5" y="254.5" width="17" height="18" fill="none" stroke="#000" stroke-width="1"/>
<rect x="652.5" y="254.5" width="17" height="18" fill="none" stroke="#000" stroke-width="1"/>
<rect x="669.5" y="254.5" width="17" height="18" fill="none" stroke="#000" stroke-width="1"/>
<rect x="686.5" y="254.5" width="17" height="18" fill="none" stroke="#000" stroke-width="1"/>
<rect x="703.5" y="254.5" width="17" height="18" fill="none" stroke="#000" stroke-width="1"/>
<rect x="720.5" y="254.5" width="17" height="18" fill="none" stroke="#000" stroke-width="1"/>
<rect x="70.5" y="289.5" width="17" height="17" fill="none" stroke="#000" stroke-width="1"/>
<rect x="87.5" y="289.5" width="17" height="17" fill="none" stroke="#000" stroke-width="1"/>
<rect x="104.5" y="289.5" width="17" height="17" fill="none" stroke="#000" stroke-width="1"/>
<rect x="121.5" y="289.5" width="17" height="17" fill="none" stroke="#000" stroke-width="1"/>
<rect x="138.5" y="289.5" width="18" height="17" fill="none" stroke="#000" stroke-width="1"/>
<rect x="156.5" y="289.5" width="17" height="17" fill="none" stroke="#000" stroke-width="1"/>
<rect x="173.5" y="289.5" width="17" height="17" fill="none" stroke="#000" stroke-width="1"/>
<rect x="190.5" y="289.5" width="17" height="17" fill="none" stroke="#000" stroke-width="1"/>
<rect x="207.5" y="289.5" width="17" height="17" fill="none" stroke="#000" stroke-width="1"/>
<rect x="224.5" y="289.5" width="17" height="17" fill="none" stroke="#000" stroke-width="1"/>
<rect x="241.5" y="289.5" width="17" height="17" fill="none" stroke="#000" stroke-width="1"/>
<rect x="258.5" y="289.5" width="17" height="17" fill="none" stroke="#000" stroke-width="1"/>
<rect x="275.5" y="289.5" width="17" height="17" fill="none" stroke="#000" stroke-width="1"/>
<rect x="292.5" y="289.5" width="18" height="17" fill="none" stroke="#000" stroke-width="1"/>
<rect x="53.5" y="306.5" width="17" height="17" fill="none" stroke="#000" stroke-width="1"/>
<rect x="70.5" y="306.5" width="17" height="17" fill="none" stroke="#000" stroke-width="1"/>
<rect x="87.5" y="306.5" width="17" height="17" fill="none" stroke="#000" stroke-width="1"/>
<rect x="104.5" y="306.5" width="17" height="17" fill="none" stroke="#000" stroke-width="1"/>
<rect x="121.5" y="306.5" width="17" height="17" fill="none" stroke="#000" stroke-width="1"/>
<rect x="138.5" y="306.5" width="18" height="17" fill="none" stroke="#000" stroke-width="1"/>
<rect x="156.5" y="306.5" width="17" height="17" fill="none" stroke="#000" stroke-width="1"/>
<rect x="173.5" y="306.5" width="17" height="17" fill="none" stroke="#000" stroke-width="1"/>
<rect x="190.5" y="306.5" width="17" height="17" fill="none" stroke="#000" stroke-width="1"/>
<rect x="207.5" y="306.5" width="17" height="17" fill="none" stroke="#000" stroke-width="1"/>
<rect x="224.5" y="306.5" width="17" height="17" fill="none" stroke="#000" stroke-width="1"/>
<rect x="241.5" y="306.5" width="17" height="17" fill="none" stroke="#000" stroke-width="1"/>
<rect x="258.5" y="306.5" width="17" height="17" fill="none" stroke="#000" stroke-width="1"/>
<rect x="275.5" y="306.5" width="17" height="17" fill="none" stroke="#000" stroke-width="1"/>
<rect x="292.5" y="306.5" width="18" height="17" fill="none" stroke="#000" stroke-width="1"/>
<rect x="53.5" y="323.5" width="17" height="17" fill="none" stroke="#000" stroke-width="1"/>
<rect x="70.5" y="323.5" width="17" height="17" fill="none" stroke="#000" stroke-width="1"/>
<rect x="87.5" y="323.5" width="17" height="17" fill="none" stroke="#000" stroke-width="1"/>
<rect x="104.5" y="323.5" width="17" height="17" fill="none" stroke="#000" stroke-width="1"/>
<rect x="121.5" y="323.5" width="17" height="17" fill="none" stroke="#000" stroke-width="1"/>
<rect x="138.5" y="323.5" width="18" height="17" fill="none" stroke="#000" stroke-width="1"/>
<rect x="156.5" y="323.5" width="17" height="17" fill="none" stroke="#000" stroke-width="1"/>
<rect x="173.5" y="323.5" width="17" height="17" fill="none" stroke="#000" stroke-width="1"/>
<rect x="190.5" y="323.5" width="17" height="17" fill="none" stroke="#000" stroke-width="1"/>
<rect x="207.5" y="323.5" width="17" height="17" fill="none" stroke="#000" stroke-width="1"/>
<rect x="224.5" y="323.5" width="17" height="17" fill="none" stroke="#000" stroke-width="1"/>
<rect x="241.5" y="323.5" width="17" height="17" fill="none" stroke="#000" stroke-width="1"/>
<rect x="258.5" y="323.5" width="17" height="17" fill="none" stroke="#000" stroke-width="1"/>
<rect x="275.5" y="323.5" width="17" height="17" fill="none" stroke="#000" stroke-width="1"/>
<rect x="292.5" y="323.5" width="18" height="17" fill="none" stroke="#000" stroke-width="1"/>
<rect x="53.5" y="340.5" width="17" height="17" fill="none" stroke="#000" stroke-width="1"/>
<rect x="70.5" y="340.5" width="17" height="17" fill="none" stroke="#000" stroke-width="1"/>
<rect x="87.5" y="340.5" width="17" height="17" fill="none" stroke="#000" stroke-width="1"/>
<rect x="104.5" y="340.5" width="17" height="17" fill="none" stroke="#000" stroke-width="1"/>
<rect x="121.5" y="340.5" width="17" height="17" fill="none" stroke="#000" stroke-width="1"/>
<rect x="138.5" y="340.5" width="18" height="17" fill="none" stroke="#000" stroke-width="1"/>
<rect x="156.5" y="340.5" width="17" height="17" fill="none" stroke="#000" stroke-width="1"/>
<rect x="173.5" y="340.5" width="17" height="17" fill="none" stroke="#000" stroke-width="1"/>
<rect x="190.5" y="340.5" width="17" height="17" fill="none" stroke="#000" stroke-width="1"/>
<rect x="207.5" y="340.5" width="17" height="17" fill="none" stroke="#000" stroke-width="1"/>
<rect x="224.5" y="340.5" width="17" height="17" fill="none" stroke="#000" stroke-width="1"/>
<rect x="241.5" y="340.5" width="17" height="17" fill="none" stroke="#000" stroke-width="1"/>
<rect x="53.5" y="357.5" width="17" height="17" fill="none" stroke="#000" stroke-width="1"/>
<rect x="70.5" y="357.5" width="17" height="17" fill="none" stroke="#000" stroke-width="1"/>
<rect x="87.5" y="357.5" width="17" height="17" fill="none" stroke="#000" stroke-width="1"/>
<rect x="104.5" y="357.5" width="17" height="17" fill="none" stroke="#000" stroke-width="1"/>
<rect x="121.5" y="357.5" width="17" height="17" fill="none" stroke="#000" stroke-width="1"/>
<rect x="138.5" y="357.5" width="18" height="17" fill="none" stroke="#000" stroke-width="1"/>
<rect x="156.5" y="357.5" width="17" height="17" fill="none" stroke="#000" stroke-width="1"/>
<rect x="173.5" y="357.5" width="17" height="17" fill="none" stroke="#000" stroke-width="1"/>
<rect x="190.5" y="357.5" width="17" height="17" fill="none" stroke="#000" stroke-width="1"/>
<rect x="207.5" y="357.5" width="17" height="17" fill="none" stroke="#000" stroke-width="1"/>
<rect x="224.5" y="357.5" width="17" height="17" fill="none" stroke="#000" stroke-width="1"/>
<rect x="241.5" y="357.5" width="17" height="17" fill="none" stroke="#000" stroke-width="1"/>
<rect x="70.5" y="374.5" width="17" height="17" fill="none" stroke="#000" stroke-width="1"/>
<rect x="87.5" y="374.5" width="17" height="17" fill="none" stroke="#000" stroke-width="1"/>
<rect x="104.5" y="374.5" width="17" height="17" fill="none" stroke="#000" stroke-width="1"/>
<rect x="121.5" y="374.5" width="17" height="17" fill="none" stroke="#000" stroke-width="1"/>
<rect x="138.5" y="374.5" width="18" height="17" fill="none" stroke="#000" stroke-width="1"/>
<rect x="156.5" y="374.5" width="17" height="17" fill="none" stroke="#000" stroke-width="1"/>
<rect x="173.5" y="374.5" width="17" height="17" fill="none" stroke="#000" stroke-width="1"/>
<rect x="190.5" y="374.5" width="17" height="17" fill="none" stroke="#000" stroke-width="1"/>
<rect x="207.5" y="374.5" width="17" height="17" fill="none" stroke="#000" stroke-width="1"/>
<rect x="224.5" y="374.5" width="17" height="17" fill="none" stroke="#000" stroke-width="1"/>
<rect x="241.5" y="374.5" width="17" height="17" fill="none" stroke="#000" stroke-width="1"/>
<rect x="87.5" y="391.5" width="17" height="17" fill="none" stroke="#000" stroke-width="1"/>
<rect x="104.5" y="391.5" width="17" height="17" fill="none" stroke="#000" stroke-width="1"/>
<rect x="121.5" y="391.5" width="17" height="17" fill="none" stroke="#000" stroke-width="1"/>
<rect x="138.5" y="391.5" width="18" height="17" fill="none" stroke="#000" stroke-width="1"/>
<rect x="156.5" y="391.5" width="17" height="17" fill="none" stroke="#000" stroke-width="1"/>
<rect x="173.5" y="391.5" width="17" height="17" fill="none" stroke="#000" stroke-width="1"/>
<rect x="190.5" y="391.5" width="17" height="17" fill="none" stroke="#000" stroke-width="1"/>
<rect x="207.5" y="391.5" width="17" height="17" fill="none" stroke="#000" stroke-width="1"/>
<rect x="224.5" y="391.5" width="17" height="17" fill="none" stroke="#000" stroke-width="1"/>
<rect x="241.5" y="391.5" width="17" height="17" fill="none" stroke="#000" stroke-width="1"/>
<rect x="121.5" y="408.5" width="17" height="18" fill="none" stroke="#000" stroke-width="1"/>
<rect x="138.5" y="408.5" width="18" height="18" fill="none" stroke="#000" stroke-width="1"/>
<rect x="156.5" y="408.5" width="17" height="18" fill="none" stroke="#000" stroke-width="1"/>
<rect x="173.5" y="408.5" width="17" height="18" fill="none" stroke="#000" stroke-width="1"/>
<rect x="190.5" y="408.5" width="17" height="18" fill="none" stroke="#000" stroke-width="1"/>
<rect x="138.5" y="426.5" width="18" height="17" fill="none" stroke="#000" stroke-width="1"/>
<rect x="156.5" y="426.5" width="17" height="17" fill="none" stroke="#000" stroke-width="1"/>
<rect x="173.5" y="426.5" width="17" height="17" fill="none" stroke="#000" stroke-width="1"/>
<rect x="190.5" y="426.5" width="17" height="17" fill="none" stroke="#000" stroke-width="1"/>
<rect x="156.5" y="443.5" width="17" height="17" fill="none" stroke="#000" stroke-width="1"/>
<rect x="173.5" y="443.5" width="17" height="17" fill="none" stroke="#000" stroke-width="1"/>
<rect x="87.5" y="272.5" width="17" height="17" fill="none" stroke="#000" stroke-width="1"/>
<rect x="104.5" y="272.5" width="17" height="17" fill="none" stroke="#000" stroke-width="1"/>
<rect x="121.5" y="272.5" width="17" height="17" fill="none" stroke="#000" stroke-width="1"/>
<rect x="138.5" y="272.5" width="18" height="17" fill="none" stroke="#000" stroke-width="1"/>
<rect x="156.5" y="272.5" width="17" height="17" fill="none" stroke="#000" stroke-width="1"/>
<rect x="173.5" y="272.5" width="17" height="17" fill="none" stroke="#000" stroke-width="1"/>
<rect x="190.5" y="272.5" width="17" height="17" fill="none" stroke="#000" stroke-width="1"/>
<rect x="207.5" y="272.5" width="17" height="17" fill="none" stroke="#000" stroke-width="1"/>
<rect x="224.5" y="272.5" width="17" height="17" fill="none" stroke="#000" stroke-width="1"/>
<rect x="241.5" y="272.5" width="17" height="17" fill="none" stroke="#000" stroke-width="1"/>
<rect x="258.5" y="272.5" width="17" height="17" fill="none" stroke="#000" stroke-width="1"/>
<rect x="275.5" y="272.5" width="17" height="17" fill="none" stroke="#000" stroke-width="1"/>
<rect x="292.5" y="272.5" width="18" height="17" fill="none" stroke="#000" stroke-width="1"/>
<rect x="464.5" y="272.5" width="17" height="17" fill="none" stroke="#000" stroke-width="1"/>
<rect x="481.5" y="272.5" width="17" height="17" fill="none" stroke="#000" stroke-width="1"/>
<rect x="498.5" y="272.5" width="17" height="17" fill="none" stroke="#000" stroke-width="1"/>
<rect x="515.5" y="272.5" width="17" height="17" fill="none" stroke="#000" stroke-width="1"/>
<rect x="532.5" y="272.5" width="17" height="17" fill="none" stroke="#000" stroke-width="1"/>
<rect x="549.5" y="272.5" width="17" height="17" fill="none" stroke="#000" stroke-width="1"/>
<rect x="566.5" y="272.5" width="17" height="17" fill="none" stroke="#000" stroke-width="1"/>
<rect x="583.5" y="272.5" width="17" height="17" fill="none" stroke="#000" stroke-width="1"/>
<rect x="600.5" y="272.5" width="18" height="17" fill="none" stroke="#000" stroke-width="1"/>
<rect x="618.5" y="272.5" width="17" height="17" fill="none" stroke="#000" stroke-width="1"/>
<rect x="635.5" y="272.5" width="17" height="17" fill="none" stroke="#000" stroke-width="1"/>
<rect x="652.5" y="272.5" width="17" height="17" fill="none" stroke="#000" stroke-width="1"/>
<rect x="669.5" y="272.5" width="17" height="17" fill="none" stroke="#000" stroke-width="1"/>
<rect x="686.5" y="272.5" width="17" height="17" fill="none" stroke="#000" stroke-width="1"/>
<rect x="703.5" y="272.5" width="17" height="17" fill="none" stroke="#000" stroke-width="1"/>
<rect x="720.5" y="272.5" width="17" height="17" fill="none" stroke="#000" stroke-width="1"/>
</g>
<g shape-rendering="crispEdges" stroke-linejoin="round">
<polyline points="10.0,125.5 26.6,125.5" fill="none" stroke="#000" stroke-width="3" />
<polyline points="24.3,124.5 176.0,124.5" fill="none" stroke="#000" stroke-width="3" />
<polyline points="221.0,124.5 229.0,117.5 400.0,107.2" fill="none" stroke="#000" stroke-width="3.5" />
<polyline points="400.5,107.0 466.0,53.5" fill="none" stroke="#000" stroke-width="5" />
<polyline points="466.0,53.5 500.6,66.0 537.5,83.5 575.0,100.0 603.2,113.2 624.5,122.5 651.3,134.8 677.6,147.3" fill="none" stroke="#000" stroke-width="3.4" />
<polyline points="677.6,147.3 680.5,151.0 682.2,156.6 684.0,164.2 686.5,173.8 689.4,185.3 694.2,200.5 698.5,217.7 703.2,232.4 709.1,257.4 710.6,261.0" fill="none" stroke="#000" stroke-width="3.6" />
<polyline points="564.5,268.0 712.0,268.0" fill="none" stroke="#000" stroke-width="2" />
<polyline points="564.5,268.0 519.5,370.8 349.2,472.5 349.2,478.0" fill="none" stroke="#000" stroke-width="3.8" />
<polyline points="125.2,478.0 129.5,460.5 142.7,467.2 149.0,465.9 160.4,458.9 168.0,458.6 173.1,459.6 178.2,462.7 189.6,462.7 195.9,458.3 199.7,452.6 206.0,450.0 217.5,447.9 230.0,460.8 244.6,478.0" fill="none" stroke="#000" stroke-width="3.4" />
<line x1="188.8" y1="77.2" x2="186.5" y2="87.8" stroke="#000" stroke-width="2"/>
<line x1="186.1" y1="96.9" x2="183.5" y2="105.3" stroke="#000" stroke-width="2"/>
<line x1="181.0" y1="116.2" x2="178.9" y2="121.4" stroke="#000" stroke-width="2"/>
<line x1="175.0" y1="133.8" x2="173.8" y2="137.2" stroke="#000" stroke-width="2.8"/>
<line x1="169.8" y1="152.8" x2="168.8" y2="155.8" stroke="#000" stroke-width="2.8"/>
<line x1="167.2" y1="163.4" x2="165.8" y2="166.4" stroke="#000" stroke-width="2.8"/>
<line x1="161.6" y1="178.8" x2="160.0" y2="182.4" stroke="#000" stroke-width="2.8"/>
<line x1="156.0" y1="199.4" x2="153.0" y2="203.0" stroke="#000" stroke-width="2.8"/>
<line x1="148.7" y1="217.0" x2="147.1" y2="222.4" stroke="#000" stroke-width="2"/>
<line x1="141.9" y1="234.8" x2="138.8" y2="241.9" stroke="#000" stroke-width="2.8"/>
<line x1="136.9" y1="251.2" x2="134.7" y2="259.0" stroke="#000" stroke-width="2"/>
<line x1="133.2" y1="269.0" x2="132.2" y2="276.0" stroke="#000" stroke-width="2"/>
<line x1="116.0" y1="286.0" x2="127.0" y2="286.0" stroke="#000" stroke-width="2"/>
<line x1="95.3" y1="287.0" x2="95.3" y2="294.0" stroke="#000" stroke-width="2"/>
<line x1="80.4" y1="302.5" x2="91.2" y2="302.5" stroke="#000" stroke-width="2"/>
<line x1="73.5" y1="307.0" x2="71.0" y2="311.0" stroke="#000" stroke-width="2.8"/>
<line x1="65.5" y1="324.2" x2="63.3" y2="328.0" stroke="#000" stroke-width="2.8"/>
<line x1="59.6" y1="342.5" x2="59.0" y2="344.5" stroke="#000" stroke-width="2.8"/>
<line x1="68.6" y1="355.3" x2="68.6" y2="361.5" stroke="#000" stroke-width="2"/>
<line x1="10.6" y1="371.5" x2="20.9" y2="371.5" stroke="#000" stroke-width="2"/>
<line x1="29.3" y1="371.5" x2="41.2" y2="371.5" stroke="#000" stroke-width="2"/>
<line x1="53.2" y1="371.5" x2="61.2" y2="371.5" stroke="#000" stroke-width="2"/>
<line x1="70.1" y1="371.0" x2="78.0" y2="371.0" stroke="#000" stroke-width="2"/>
<line x1="78.0" y1="371.0" x2="86.9" y2="377.7" stroke="#000" stroke-width="2.8"/>
<line x1="95.8" y1="387.5" x2="109.1" y2="396.2" stroke="#000" stroke-width="2.8"/>
<line x1="118.0" y1="405.2" x2="132.2" y2="413.2" stroke="#000" stroke-width="2.8"/>
<line x1="140.1" y1="420.9" x2="149.6" y2="427.2" stroke="#000" stroke-width="2.8"/>
<line x1="161.0" y1="438.7" x2="164.9" y2="440.6" stroke="#000" stroke-width="2.8"/>
<line x1="172.5" y1="445.4" x2="175.6" y2="447.9" stroke="#000" stroke-width="2.8"/>
<line x1="181.3" y1="455.5" x2="190.2" y2="459.6" stroke="#000" stroke-width="2.8"/>
<line x1="184.5" y1="438.5" x2="196.0" y2="438.5" stroke="#000" stroke-width="2"/>
<line x1="188.0" y1="439.0" x2="190.5" y2="447.0" stroke="#000" stroke-width="2"/>
<line x1="299.6" y1="268.5" x2="310.3" y2="268.5" stroke="#000" stroke-width="2"/>
<line x1="299.8" y1="268.0" x2="299.8" y2="276.0" stroke="#000" stroke-width="2"/>
<line x1="319.1" y1="268.5" x2="330.7" y2="268.5" stroke="#000" stroke-width="2"/>
<line x1="339.5" y1="268.5" x2="350.7" y2="268.5" stroke="#000" stroke-width="2"/>
<line x1="359.9" y1="268.5" x2="370.6" y2="268.5" stroke="#000" stroke-width="2"/>
<line x1="379.0" y1="268.5" x2="390.5" y2="268.5" stroke="#000" stroke-width="2"/>
<line x1="399.3" y1="268.5" x2="410.8" y2="268.5" stroke="#000" stroke-width="2"/>
<line x1="419.3" y1="268.5" x2="430.3" y2="268.5" stroke="#000" stroke-width="2"/>
<line x1="478.2" y1="267.5" x2="478.2" y2="275.4" stroke="#000" stroke-width="2"/>
<line x1="477.8" y1="284.5" x2="488.4" y2="284.5" stroke="#000" stroke-width="2"/>
<line x1="482.0" y1="284.0" x2="482.0" y2="289.0" stroke="#000" stroke-width="2"/>
<line x1="499.0" y1="284.5" x2="509.0" y2="284.5" stroke="#000" stroke-width="2"/>
<line x1="518.4" y1="284.5" x2="528.1" y2="284.5" stroke="#000" stroke-width="2"/>
<line x1="537.0" y1="284.5" x2="549.7" y2="284.5" stroke="#000" stroke-width="2"/>
<line x1="584.9" y1="284.5" x2="589.3" y2="284.5" stroke="#000" stroke-width="2"/>
<line x1="600.8" y1="284.5" x2="608.4" y2="284.5" stroke="#000" stroke-width="2"/>
<line x1="620.3" y1="284.5" x2="624.8" y2="284.5" stroke="#000" stroke-width="2"/>
<line x1="622.8" y1="284.0" x2="622.8" y2="295.0" stroke="#000" stroke-width="2"/>
<line x1="300.0" y1="289.0" x2="300.0" y2="293.0" stroke="#000" stroke-width="2.8"/>
<line x1="300.0" y1="298.0" x2="300.0" y2="300.0" stroke="#000" stroke-width="2.8"/>
<line x1="300.0" y1="317.8" x2="300.0" y2="320.4" stroke="#000" stroke-width="2.8"/>
<line x1="297.0" y1="323.0" x2="285.2" y2="327.0" stroke="#000" stroke-width="2.8"/>
<line x1="257.8" y1="336.6" x2="248.6" y2="340.8" stroke="#000" stroke-width="2.8"/>
<line x1="430.0" y1="268.0" x2="478.0" y2="268.0" stroke="#000" stroke-width="1"/>
<line x1="249.5" y1="353.0" x2="249.5" y2="357.0" stroke="#000" stroke-width="1.5"/>
<line x1="249.5" y1="370.0" x2="249.5" y2="376.6" stroke="#000" stroke-width="1.5"/>
<line x1="249.5" y1="387.0" x2="249.5" y2="396.5" stroke="#000" stroke-width="1.5"/>
<line x1="246.0" y1="396.5" x2="250.0" y2="396.5" stroke="#000" stroke-width="1.5"/>
<line x1="224.0" y1="396.5" x2="226.0" y2="396.5" stroke="#000" stroke-width="1.5"/>
<line x1="205.5" y1="396.0" x2="205.5" y2="398.0" stroke="#000" stroke-width="1.5"/>
<line x1="205.5" y1="411.0" x2="205.5" y2="413.0" stroke="#000" stroke-width="1.5"/>
<line x1="205.5" y1="421.0" x2="205.5" y2="423.0" stroke="#000" stroke-width="1.5"/>
<line x1="205.5" y1="429.0" x2="205.5" y2="431.0" stroke="#000" stroke-width="1.5"/>
<line x1="205.5" y1="438.0" x2="205.5" y2="440.0" stroke="#000" stroke-width="1.5"/>
<line x1="622.0" y1="300.0" x2="631.1" y2="300.0" stroke="#000" stroke-width="2"/>
<line x1="639.5" y1="300.0" x2="651.5" y2="300.0" stroke="#000" stroke-width="2"/>
<line x1="661.8" y1="300.0" x2="676.6" y2="300.0" stroke="#000" stroke-width="2"/>
<line x1="686.2" y1="300.0" x2="695.8" y2="300.0" stroke="#000" stroke-width="2"/>
<line x1="704.2" y1="300.0" x2="717.4" y2="300.0" stroke="#000" stroke-width="2"/>
<line x1="725.7" y1="300.0" x2="738.9" y2="300.0" stroke="#000" stroke-width="2"/>
<line x1="748.5" y1="300.0" x2="758.1" y2="300.0" stroke="#000" stroke-width="2"/>
<line x1="765.3" y1="300.0" x2="779.0" y2="300.0" stroke="#000" stroke-width="2"/>
</g>
<g shape-rendering="crispEdges">
<rect x="432" y="38" width="16" height="7" fill="#fff"/>
<rect x="449" y="38" width="16" height="7" fill="#fff"/>
<rect x="466" y="38" width="16" height="7" fill="#fff"/>
<rect x="483" y="38" width="16" height="7" fill="#fff"/>
<rect x="415" y="55" width="16" height="7" fill="#fff"/>
<rect x="432" y="55" width="16" height="7" fill="#fff"/>
<rect x="449" y="55" width="16" height="7" fill="#fff"/>
<rect x="466" y="55" width="16" height="7" fill="#fff"/>
<rect x="483" y="55" width="16" height="7" fill="#fff"/>
<rect x="501" y="55" width="16" height="7" fill="#fff"/>
<rect x="518" y="55" width="16" height="7" fill="#fff"/>
<rect x="398" y="72" width="16" height="7" fill="#fff"/>
<rect x="415" y="72" width="16" height="7" fill="#fff"/>
<rect x="432" y="72" width="16" height="7" fill="#fff"/>
<rect x="449" y="72" width="16" height="7" fill="#fff"/>
<rect x="466" y="72" width="16" height="7" fill="#fff"/>
<rect x="483" y="72" width="16" height="7" fill="#fff"/>
<rect x="501" y="72" width="16" height="7" fill="#fff"/>
<rect x="518" y="72" width="16" height="7" fill="#fff"/>
<rect x="535" y="72" width="16" height="7" fill="#fff"/>
<rect x="552" y="72" width="16" height="7" fill="#fff"/>
<rect x="176" y="89" width="16" height="7" fill="#fff"/>
<rect x="193" y="89" width="16" height="7" fill="#fff"/>
<rect x="210" y="89" width="16" height="7" fill="#fff"/>
<rect x="227" y="89" width="16" height="7" fill="#fff"/>
<rect x="244" y="89" width="16" height="7" fill="#fff"/>
<rect x="261" y="89" width="16" height="7" fill="#fff"/>
<rect x="278" y="89" width="16" height="7" fill="#fff"/>
<rect x="295" y="89" width="16" height="7" fill="#fff"/>
<rect x="312" y="89" width="16" height="7" fill="#fff"/>
<rect x="329" y="89" width="16" height="7" fill="#fff"/>
<rect x="347" y="89" width="16" height="7" fill="#fff"/>
<rect x="364" y="89" width="16" height="7" fill="#fff"/>
<rect x="381" y="89" width="16" height="7" fill="#fff"/>
<rect x="398" y="89" width="16" height="7" fill="#fff"/>
<rect x="415" y="89" width="16" height="7" fill="#fff"/>
<rect x="432" y="89" width="16" height="7" fill="#fff"/>
<rect x="449" y="89" width="16" height="7" fill="#fff"/>
<rect x="466" y="89" width="16" height="7" fill="#fff"/>
<rect x="483" y="89" width="16" height="7" fill="#fff"/>
<rect x="501" y="89" width="16" height="7" fill="#fff"/>
<rect x="518" y="89" width="16" height="7" fill="#fff"/>
<rect x="535" y="89" width="16" height="7" fill="#fff"/>
<rect x="552" y="89" width="16" height="7" fill="#fff"/>
<rect x="569" y="89" width="16" height="7" fill="#fff"/>
<rect x="586" y="89" width="16" height="7" fill="#fff"/>
<rect x="603" y="89" width="16" height="7" fill="#fff"/>
<rect x="176" y="106" width="16" height="7" fill="#fff"/>
<rect x="193" y="106" width="16" height="7" fill="#fff"/>
<rect x="210" y="106" width="16" height="7" fill="#fff"/>
<rect x="227" y="106" width="16" height="7" fill="#fff"/>
<rect x="244" y="106" width="16" height="7" fill="#fff"/>
<rect x="261" y="106" width="16" height="7" fill="#fff"/>
<rect x="278" y="106" width="16" height="7" fill="#fff"/>
<rect x="295" y="106" width="16" height="7" fill="#fff"/>
<rect x="312" y="106" width="16" height="7" fill="#fff"/>
<rect x="329" y="106" width="16" height="7" fill="#fff"/>
<rect x="347" y="106" width="16" height="7" fill="#fff"/>
<rect x="364" y="106" width="16" height="7" fill="#fff"/>
<rect x="381" y="106" width="16" height="7" fill="#fff"/>
<rect x="398" y="106" width="16" height="7" fill="#fff"/>
<rect x="415" y="106" width="16" height="7" fill="#fff"/>
<rect x="432" y="106" width="16" height="7" fill="#fff"/>
<rect x="449" y="106" width="16" height="7" fill="#fff"/>
<rect x="466" y="106" width="16" height="7" fill="#fff"/>
<rect x="483" y="106" width="16" height="7" fill="#fff"/>
<rect x="501" y="106" width="16" height="7" fill="#fff"/>
<rect x="518" y="106" width="16" height="7" fill="#fff"/>
<rect x="535" y="106" width="16" height="7" fill="#fff"/>
<rect x="552" y="106" width="16" height="7" fill="#fff"/>
<rect x="569" y="106" width="16" height="7" fill="#fff"/>
<rect x="586" y="106" width="16" height="7" fill="#fff"/>
<rect x="603" y="106" width="16" height="7" fill="#fff"/>
<rect x="620" y="106" width="16" height="7" fill="#fff"/>
<rect x="637" y="106" width="16" height="7" fill="#fff"/>
<rect x="176" y="123" width="16" height="7" fill="#fff"/>
<rect x="193" y="123" width="16" height="7" fill="#fff"/>
<rect x="210" y="123" width="16" height="7" fill="#fff"/>
<rect x="227" y="123" width="16" height="7" fill="#fff"/>
<rect x="244" y="123" width="16" height="7" fill="#fff"/>
<rect x="261" y="123" width="16" height="7" fill="#fff"/>
<rect x="278" y="123" width="16" height="7" fill="#fff"/>
<rect x="295" y="123" width="16" height="7" fill="#fff"/>
<rect x="312" y="123" width="16" height="7" fill="#fff"/>
<rect x="329" y="123" width="16" height="7" fill="#fff"/>
<rect x="347" y="123" width="16" height="7" fill="#fff"/>
<rect x="364" y="123" width="16" height="7" fill="#fff"/>
<rect x="381" y="123" width="16" height="7" fill="#fff"/>
<rect x="398" y="123" width="16" height="7" fill="#fff"/>
<rect x="415" y="123" width="16" height="7" fill="#fff"/>
<rect x="432" y="123" width="16" height="7" fill="#fff"/>
<rect x="449" y="123" width="16" height="7" fill="#fff"/>
<rect x="466" y="123" width="16" height="7" fill="#fff"/>
<rect x="483" y="123" width="16" height="7" fill="#fff"/>
<rect x="501" y="123" width="16" height="7" fill="#fff"/>
<rect x="518" y="123" width="16" height="7" fill="#fff"/>
<rect x="535" y="123" width="16" height="7" fill="#fff"/>
<rect x="552" y="123" width="16" height="7" fill="#fff"/>
<rect x="569" y="123" width="16" height="7" fill="#fff"/>
<rect x="586" y="123" width="16" height="7" fill="#fff"/>
<rect x="603" y="123" width="16" height="7" fill="#fff"/>
<rect x="620" y="123" width="16" height="7" fill="#fff"/>
<rect x="637" y="123" width="16" height="7" fill="#fff"/>
<rect x="655" y="123" width="16" height="7" fill="#fff"/>
<rect x="672" y="123" width="16" height="7" fill="#fff"/>
<rect x="158" y="140" width="16" height="7" fill="#fff"/>
<rect x="176" y="140" width="16" height="7" fill="#fff"/>
<rect x="193" y="140" width="16" height="7" fill="#fff"/>
<rect x="210" y="140" width="16" height="7" fill="#fff"/>
<rect x="227" y="140" width="16" height="7" fill="#fff"/>
<rect x="244" y="140" width="16" height="7" fill="#fff"/>
<rect x="261" y="140" width="16" height="7" fill="#fff"/>
<rect x="278" y="140" width="16" height="7" fill="#fff"/>
<rect x="295" y="140" width="16" height="7" fill="#fff"/>
<rect x="312" y="140" width="16" height="7" fill="#fff"/>
<rect x="329" y="140" width="16" height="7" fill="#fff"/>
<rect x="347" y="140" width="16" height="7" fill="#fff"/>
<rect x="364" y="140" width="16" height="7" fill="#fff"/>
<rect x="381" y="140" width="16" height="7" fill="#fff"/>
<rect x="398" y="140" width="16" height="7" fill="#fff"/>
<rect x="415" y="140" width="16" height="7" fill="#fff"/>
<rect x="432" y="140" width="16" height="7" fill="#fff"/>
<rect x="449" y="140" width="16" height="7" fill="#fff"/>
<rect x="466" y="140" width="16" height="7" fill="#fff"/>
<rect x="483" y="140" width="16" height="7" fill="#fff"/>
<rect x="501" y="140" width="16" height="7" fill="#fff"/>
<rect x="518" y="140" width="16" height="7" fill="#fff"/>
<rect x="535" y="140" width="16" height="7" fill="#fff"/>
<rect x="552" y="140" width="16" height="7" fill="#fff"/>
<rect x="569" y="140" width="16" height="7" fill="#fff"/>
<rect x="586" y="140" width="16" height="7" fill="#fff"/>
<rect x="603" y="140" width="16" height="7" fill="#fff"/>
<rect x="620" y="140" width="16" height="7" fill="#fff"/>
<rect x="637" y="140" width="16" height="7" fill="#fff"/>
<rect x="655" y="140" width="16" height="7" fill="#fff"/>
<rect x="672" y="140" width="16" height="7" fill="#fff"/>
<rect x="689" y="140" width="16" height="7" fill="#fff"/>
<rect x="158" y="157" width="16" height="7" fill="#fff"/>
<rect x="176" y="157" width="16" height="7" fill="#fff"/>
<rect x="193" y="157" width="16" height="7" fill="#fff"/>
<rect x="210" y="157" width="16" height="7" fill="#fff"/>
<rect x="227" y="157" width="16" height="7" fill="#fff"/>
<rect x="244" y="157" width="16" height="7" fill="#fff"/>
<rect x="261" y="157" width="16" height="7" fill="#fff"/>
<rect x="278" y="157" width="16" height="7" fill="#fff"/>
<rect x="295" y="157" width="16" height="7" fill="#fff"/>
<rect x="312" y="157" width="16" height="7" fill="#fff"/>
<rect x="329" y="157" width="16" height="7" fill="#fff"/>
<rect x="347" y="157" width="16" height="7" fill="#fff"/>
<rect x="364" y="157" width="16" height="7" fill="#fff"/>
<rect x="381" y="157" width="16" height="7" fill="#fff"/>
<rect x="398" y="157" width="16" height="7" fill="#fff"/>
<rect x="415" y="157" width="16" height="7" fill="#fff"/>
<rect x="432" y="157" width="16" height="7" fill="#fff"/>
<rect x="449" y="157" width="16" height="7" fill="#fff"/>
<rect x="466" y="157" width="16" height="7" fill="#fff"/>
<rect x="483" y="157" width="16" height="7" fill="#fff"/>
<rect x="501" y="157" width="16" height="7" fill="#fff"/>
<rect x="518" y="157" width="16" height="7" fill="#fff"/>
<rect x="535" y="157" width="16" height="7" fill="#fff"/>
<rect x="552" y="157" width="16" height="7" fill="#fff"/>
<rect x="569" y="157" width="16" height="7" fill="#fff"/>
<rect x="586" y="157" width="16" height="7" fill="#fff"/>
<rect x="603" y="157" width="16" height="7" fill="#fff"/>
<rect x="620" y="157" width="16" height="7" fill="#fff"/>
<rect x="637" y="157" width="16" height="7" fill="#fff"/>
<rect x="655" y="157" width="16" height="7" fill="#fff"/>
<rect x="672" y="157" width="16" height="7" fill="#fff"/>
<rect x="689" y="157" width="16" height="7" fill="#fff"/>
<rect x="158" y="174" width="16" height="7" fill="#fff"/>
<rect x="176" y="174" width="16" height="7" fill="#fff"/>
<rect x="193" y="174" width="16" height="7" fill="#fff"/>
<rect x="210" y="174" width="16" height="7" fill="#fff"/>
<rect x="227" y="174" width="16" height="7" fill="#fff"/>
<rect x="244" y="174" width="16" height="7" fill="#fff"/>
<rect x="261" y="174" width="16" height="7" fill="#fff"/>
<rect x="278" y="174" width="16" height="7" fill="#fff"/>
<rect x="295" y="174" width="16" height="7" fill="#fff"/>
<rect x="312" y="174" width="16" height="7" fill="#fff"/>
<rect x="329" y="174" width="16" height="7" fill="#fff"/>
<rect x="347" y="174" width="16" height="7" fill="#fff"/>
<rect x="364" y="174" width="16" height="7" fill="#fff"/>
<rect x="381" y="174" width="16" height="7" fill="#fff"/>
<rect x="398" y="174" width="16" height="7" fill="#fff"/>
<rect x="415" y="174" width="16" height="7" fill="#fff"/>
<rect x="432" y="174" width="16" height="7" fill="#fff"/>
<rect x="449" y="174" width="16" height="7" fill="#fff"/>
<rect x="466" y="174" width="16" height="7" fill="#fff"/>
<rect x="483" y="174" width="16" height="7" fill="#fff"/>
<rect x="501" y="174" width="16" height="7" fill="#fff"/>
<rect x="518" y="174" width="16" height="7" fill="#fff"/>
<rect x="535" y="174" width="16" height="7" fill="#fff"/>
<rect x="552" y="174" width="16" height="7" fill="#fff"/>
<rect x="569" y="174" width="16" height="7" fill="#fff"/>
<rect x="586" y="174" width="16" height="7" fill="#fff"/>
<rect x="603" y="174" width="16" height="7" fill="#fff"/>
<rect x="620" y="174" width="16" height="7" fill="#fff"/>
<rect x="637" y="174" width="16" height="7" fill="#fff"/>
<rect x="655" y="174" width="16" height="7" fill="#fff"/>
<rect x="672" y="174" width="16" height="7" fill="#fff"/>
<rect x="689" y="174" width="16" height="7" fill="#fff"/>
<rect x="706" y="174" width="16" height="7" fill="#fff"/>
<rect x="141" y="192" width="16" height="7" fill="#fff"/>
<rect x="158" y="192" width="16" height="7" fill="#fff"/>
<rect x="176" y="192" width="16" height="7" fill="#fff"/>
<rect x="193" y="192" width="16" height="7" fill="#fff"/>
<rect x="210" y="192" width="16" height="7" fill="#fff"/>
<rect x="227" y="192" width="16" height="7" fill="#fff"/>
<rect x="244" y="192" width="16" height="7" fill="#fff"/>
<rect x="261" y="192" width="16" height="7" fill="#fff"/>
<rect x="278" y="192" width="16" height="7" fill="#fff"/>
<rect x="295" y="192" width="16" height="7" fill="#fff"/>
<rect x="312" y="192" width="16" height="7" fill="#fff"/>
<rect x="329" y="192" width="16" height="7" fill="#fff"/>
<rect x="347" y="192" width="16" height="7" fill="#fff"/>
<rect x="364" y="192" width="16" height="7" fill="#fff"/>
<rect x="381" y="192" width="16" height="7" fill="#fff"/>
<rect x="398" y="192" width="16" height="7" fill="#fff"/>
<rect x="415" y="192" width="16" height="7" fill="#fff"/>
<rect x="432" y="192" width="16" height="7" fill="#fff"/>
<rect x="449" y="192" width="16" height="7" fill="#fff"/>
<rect x="466" y="192" width="16" height="7" fill="#fff"/>
<rect x="483" y="192" width="16" height="7" fill="#fff"/>
<rect x="501" y="192" width="16" height="7" fill="#fff"/>
<rect x="518" y="192" width="16" height="7" fill="#fff"/>
<rect x="535" y="192" width="16" height="7" fill="#fff"/>
<rect x="552" y="192" width="16" height="7" fill="#fff"/>
<rect x="569" y="192" width="16" height="7" fill="#fff"/>
<rect x="586" y="192" width="16" height="7" fill="#fff"/>
<rect x="603" y="192" width="16" height="7" fill="#fff"/>
<rect x="620" y="192" width="16" height="7" fill="#fff"/>
<rect x="637" y="192" width="16" height="7" fill="#fff"/>
<rect x="655" y="192" width="16" height="7" fill="#fff"/>
<rect x="672" y="192" width="16" height="7" fill="#fff"/>
<rect x="689" y="192" width="16" height="7" fill="#fff"/>
<rect x="706" y="192" width="16" height="7" fill="#fff"/>
<rect x="141" y="209" width="16" height="7" fill="#fff"/>
<rect x="158" y="209" width="16" height="7" fill="#fff"/>
<rect x="176" y="209" width="16" height="7" fill="#fff"/>
<rect x="193" y="209" width="16" height="7" fill="#fff"/>
<rect x="210" y="209" width="16" height="7" fill="#fff"/>
<rect x="227" y="209" width="16" height="7" fill="#fff"/>
<rect x="244" y="209" width="16" height="7" fill="#fff"/>
<rect x="261" y="209" width="16" height="7" fill="#fff"/>
<rect x="278" y="209" width="16" height="7" fill="#fff"/>
<rect x="295" y="209" width="16" height="7" fill="#fff"/>
<rect x="312" y="209" width="16" height="7" fill="#fff"/>
<rect x="329" y="209" width="16" height="7" fill="#fff"/>
<rect x="347" y="209" width="16" height="7" fill="#fff"/>
<rect x="364" y="209" width="16" height="7" fill="#fff"/>
<rect x="381" y="209" width="16" height="7" fill="#fff"/>
<rect x="398" y="209" width="16" height="7" fill="#fff"/>
<rect x="415" y="209" width="16" height="7" fill="#fff"/>
<rect x="432" y="209" width="16" height="7" fill="#fff"/>
<rect x="449" y="209" width="16" height="7" fill="#fff"/>
<rect x="466" y="209" width="16" height="7" fill="#fff"/>
<rect x="483" y="209" width="16" height="7" fill="#fff"/>
<rect x="501" y="209" width="16" height="7" fill="#fff"/>
<rect x="518" y="209" width="16" height="7" fill="#fff"/>
<rect x="535" y="209" width="16" height="7" fill="#fff"/>
<rect x="552" y="209" width="16" height="7" fill="#fff"/>
<rect x="569" y="209" width="16" height="7" fill="#fff"/>
<rect x="586" y="209" width="16" height="7" fill="#fff"/>
<rect x="603" y="209" width="16" height="7" fill="#fff"/>
<rect x="620" y="209" width="16" height="7" fill="#fff"/>
<rect x="637" y="209" width="16" height="7" fill="#fff"/>
<rect x="655" y="209" width="16" height="7" fill="#fff"/>
<rect x="672" y="209" width="16" height="7" fill="#fff"/>
<rect x="689" y="209" width="16" height="7" fill="#fff"/>
<rect x="706" y="209" width="16" height="7" fill="#fff"/>
<rect x="141" y="226" width="16" height="7" fill="#fff"/>
<rect x="158" y="226" width="16" height="7" fill="#fff"/>
<rect x="176" y="226" width="16" height="7" fill="#fff"/>
<rect x="193" y="226" width="16" height="7" fill="#fff"/>
<rect x="210" y="226" width="16" height="7" fill="#fff"/>
<rect x="227" y="226" width="16" height="7" fill="#fff"/>
<rect x="244" y="226" width="16" height="7" fill="#fff"/>
<rect x="261" y="226" width="16" height="7" fill="#fff"/>
<rect x="278" y="226" width="16" height="7" fill="#fff"/>
<rect x="295" y="226" width="16" height="7" fill="#fff"/>
<rect x="312" y="226" width="16" height="7" fill="#fff"/>
<rect x="329" y="226" width="16" height="7" fill="#fff"/>
<rect x="347" y="226" width="16" height="7" fill="#fff"/>
<rect x="364" y="226" width="16" height="7" fill="#fff"/>
<rect x="381" y="226" width="16" height="7" fill="#fff"/>
<rect x="398" y="226" width="16" height="7" fill="#fff"/>
<rect x="415" y="226" width="16" height="7" fill="#fff"/>
<rect x="432" y="226" width="16" height="7" fill="#fff"/>
<rect x="449" y="226" width="16" height="7" fill="#fff"/>
<rect x="466" y="226" width="16" height="7" fill="#fff"/>
<rect x="483" y="226" width="16" height="7" fill="#fff"/>
<rect x="501" y="226" width="16" height="7" fill="#fff"/>
<rect x="518" y="226" width="16" height="7" fill="#fff"/>
<rect x="535" y="226" width="16" height="7" fill="#fff"/>
<rect x="552" y="226" width="16" height="7" fill="#fff"/>
<rect x="569" y="226" width="16" height="7" fill="#fff"/>
<rect x="586" y="226" width="16" height="7" fill="#fff"/>
<rect x="603" y="226" width="16" height="7" fill="#fff"/>
<rect x="620" y="226" width="16" height="7" fill="#fff"/>
<rect x="637" y="226" width="16" height="7" fill="#fff"/>
<rect x="655" y="226" width="16" height="7" fill="#fff"/>
<rect x="672" y="226" width="16" height="7" fill="#fff"/>
<rect x="689" y="226" width="16" height="7" fill="#fff"/>
<rect x="706" y="226" width="16" height="7" fill="#fff"/>
<rect x="124" y="243" width="16" height="7" fill="#fff"/>
<rect x="141" y="243" width="16" height="7" fill="#fff"/>
<rect x="158" y="243" width="16" height="7" fill="#fff"/>
<rect x="176" y="243" width="16" height="7" fill="#fff"/>
<rect x="193" y="243" width="16" height="7" fill="#fff"/>
<rect x="210" y="243" width="16" height="7" fill="#fff"/>
<rect x="227" y="243" width="16" height="7" fill="#fff"/>
<rect x="244" y="243" width="16" height="7" fill="#fff"/>
<rect x="261" y="243" width="16" height="7" fill="#fff"/>
<rect x="278" y="243" width="16" height="7" fill="#fff"/>
<rect x="295" y="243" width="16" height="7" fill="#fff"/>
<rect x="312" y="243" width="16" height="7" fill="#fff"/>
<rect x="329" y="243" width="16" height="7" fill="#fff"/>
<rect x="347" y="243" width="16" height="7" fill="#fff"/>
<rect x="364" y="243" width="16" height="7" fill="#fff"/>
<rect x="381" y="243" width="16" height="7" fill="#fff"/>
<rect x="398" y="243" width="16" height="7" fill="#fff"/>
<rect x="415" y="243" width="16" height="7" fill="#fff"/>
<rect x="432" y="243" width="16" height="7" fill="#fff"/>
<rect x="449" y="243" width="16" height="7" fill="#fff"/>
<rect x="466" y="243" width="16" height="7" fill="#fff"/>
<rect x="483" y="243" width="16" height="7" fill="#fff"/>
<rect x="501" y="243" width="16" height="7" fill="#fff"/>
<rect x="518" y="243" width="16" height="7" fill="#fff"/>
<rect x="535" y="243" width="16" height="7" fill="#fff"/>
<rect x="552" y="243" width="16" height="7" fill="#fff"/>
<rect x="569" y="243" width="16" height="7" fill="#fff"/>
<rect x="586" y="243" width="16" height="7" fill="#fff"/>
<rect x="603" y="243" width="16" height="7" fill="#fff"/>
<rect x="620" y="243" width="16" height="7" fill="#fff"/>
<rect x="637" y="243" width="16" height="7" fill="#fff"/>
<rect x="655" y="243" width="16" height="7" fill="#fff"/>
<rect x="672" y="243" width="16" height="7" fill="#fff"/>
<rect x="689" y="243" width="16" height="7" fill="#fff"/>
<rect x="706" y="243" width="16" height="7" fill="#fff"/>
<rect x="723" y="243" width="16" height="7" fill="#fff"/>
<rect x="124" y="260" width="16" height="7" fill="#fff"/>
<rect x="141" y="260" width="16" height="7" fill="#fff"/>
<rect x="158" y="260" width="16" height="7" fill="#fff"/>
<rect x="176" y="260" width="16" height="7" fill="#fff"/>
<rect x="193" y="260" width="16" height="7" fill="#fff"/>
<rect x="210" y="260" width="16" height="7" fill="#fff"/>
<rect x="227" y="260" width="16" height="7" fill="#fff"/>
<rect x="244" y="260" width="16" height="7" fill="#fff"/>
<rect x="261" y="260" width="16" height="7" fill="#fff"/>
<rect x="278" y="260" width="16" height="7" fill="#fff"/>
<rect x="295" y="260" width="16" height="7" fill="#fff"/>
<rect x="312" y="260" width="16" height="7" fill="#fff"/>
<rect x="329" y="260" width="16" height="7" fill="#fff"/>
<rect x="347" y="260" width="16" height="7" fill="#fff"/>
<rect x="364" y="260" width="16" height="7" fill="#fff"/>
<rect x="381" y="260" width="16" height="7" fill="#fff"/>
<rect x="398" y="260" width="16" height="7" fill="#fff"/>
<rect x="415" y="260" width="16" height="7" fill="#fff"/>
<rect x="432" y="260" width="16" height="7" fill="#fff"/>
<rect x="449" y="260" width="16" height="7" fill="#fff"/>
<rect x="466" y="260" width="16" height="7" fill="#fff"/>
<rect x="483" y="260" width="16" height="7" fill="#fff"/>
<rect x="501" y="260" width="16" height="7" fill="#fff"/>
<rect x="518" y="260" width="16" height="7" fill="#fff"/>
<rect x="535" y="260" width="16" height="7" fill="#fff"/>
<rect x="552" y="260" width="16" height="7" fill="#fff"/>
<rect x="569" y="260" width="16" height="7" fill="#fff"/>
<rect x="586" y="260" width="16" height="7" fill="#fff"/>
<rect x="603" y="260" width="16" height="7" fill="#fff"/>
<rect x="620" y="260" width="16" height="7" fill="#fff"/>
<rect x="637" y="260" width="16" height="7" fill="#fff"/>
<rect x="655" y="260" width="16" height="7" fill="#fff"/>
<rect x="672" y="260" width="16" height="7" fill="#fff"/>
<rect x="689" y="260" width="16" height="7" fill="#fff"/>
<rect x="706" y="260" width="16" height="7" fill="#fff"/>
<rect x="723" y="260" width="16" height="7" fill="#fff"/>
<rect x="73" y="294" width="16" height="7" fill="#fff"/>
<rect x="90" y="294" width="16" height="7" fill="#fff"/>
<rect x="107" y="294" width="16" height="7" fill="#fff"/>
<rect x="124" y="294" width="16" height="7" fill="#fff"/>
<rect x="141" y="294" width="16" height="7" fill="#fff"/>
<rect x="158" y="294" width="16" height="7" fill="#fff"/>
<rect x="176" y="294" width="16" height="7" fill="#fff"/>
<rect x="193" y="294" width="16" height="7" fill="#fff"/>
<rect x="210" y="294" width="16" height="7" fill="#fff"/>
<rect x="227" y="294" width="16" height="7" fill="#fff"/>
<rect x="244" y="294" width="16" height="7" fill="#fff"/>
<rect x="261" y="294" width="16" height="7" fill="#fff"/>
<rect x="278" y="294" width="16" height="7" fill="#fff"/>
<rect x="295" y="294" width="16" height="7" fill="#fff"/>
<rect x="56" y="311" width="16" height="7" fill="#fff"/>
<rect x="73" y="311" width="16" height="7" fill="#fff"/>
<rect x="90" y="311" width="16" height="7" fill="#fff"/>
<rect x="107" y="311" width="16" height="7" fill="#fff"/>
<rect x="124" y="311" width="16" height="7" fill="#fff"/>
<rect x="141" y="311" width="16" height="7" fill="#fff"/>
<rect x="158" y="311" width="16" height="7" fill="#fff"/>
<rect x="176" y="311" width="16" height="7" fill="#fff"/>
<rect x="193" y="311" width="16" height="7" fill="#fff"/>
<rect x="210" y="311" width="16" height="7" fill="#fff"/>
<rect x="227" y="311" width="16" height="7" fill="#fff"/>
<rect x="244" y="311" width="16" height="7" fill="#fff"/>
<rect x="261" y="311" width="16" height="7" fill="#fff"/>
<rect x="278" y="311" width="16" height="7" fill="#fff"/>
<rect x="295" y="311" width="16" height="7" fill="#fff"/>
<rect x="56" y="328" width="16" height="7" fill="#fff"/>
<rect x="73" y="328" width="16" height="7" fill="#fff"/>
<rect x="90" y="328" width="16" height="7" fill="#fff"/>
<rect x="107" y="328" width="16" height="7" fill="#fff"/>
<rect x="124" y="328" width="16" height="7" fill="#fff"/>
<rect x="141" y="328" width="16" height="7" fill="#fff"/>
<rect x="158" y="328" width="16" height="7" fill="#fff"/>
<rect x="176" y="328" width="16" height="7" fill="#fff"/>
<rect x="193" y="328" width="16" height="7" fill="#fff"/>
<rect x="210" y="328" width="16" height="7" fill="#fff"/>
<rect x="227" y="328" width="16" height="7" fill="#fff"/>
<rect x="244" y="328" width="16" height="7" fill="#fff"/>
<rect x="261" y="328" width="16" height="7" fill="#fff"/>
<rect x="278" y="328" width="16" height="7" fill="#fff"/>
<rect x="295" y="328" width="16" height="7" fill="#fff"/>
<rect x="56" y="346" width="16" height="7" fill="#fff"/>
<rect x="73" y="346" width="16" height="7" fill="#fff"/>
<rect x="90" y="346" width="16" height="7" fill="#fff"/>
<rect x="107" y="346" width="16" height="7" fill="#fff"/>
<rect x="124" y="346" width="16" height="7" fill="#fff"/>
<rect x="141" y="346" width="16" height="7" fill="#fff"/>
<rect x="158" y="346" width="16" height="7" fill="#fff"/>
<rect x="176" y="346" width="16" height="7" fill="#fff"/>
<rect x="193" y="346" width="16" height="7" fill="#fff"/>
<rect x="210" y="346" width="16" height="7" fill="#fff"/>
<rect x="227" y="346" width="16" height="7" fill="#fff"/>
<rect x="244" y="346" width="16" height="7" fill="#fff"/>
<rect x="56" y="363" width="16" height="7" fill="#fff"/>
<rect x="73" y="363" width="16" height="7" fill="#fff"/>
<rect x="90" y="363" width="16" height="7" fill="#fff"/>
<rect x="107" y="363" width="16" height="7" fill="#fff"/>
<rect x="124" y="363" width="16" height="7" fill="#fff"/>
<rect x="141" y="363" width="16" height="7" fill="#fff"/>
<rect x="158" y="363" width="16" height="7" fill="#fff"/>
<rect x="176" y="363" width="16" height="7" fill="#fff"/>
<rect x="193" y="363" width="16" height="7" fill="#fff"/>
<rect x="210" y="363" width="16" height="7" fill="#fff"/>
<rect x="227" y="363" width="16" height="7" fill="#fff"/>
<rect x="244" y="363" width="16" height="7" fill="#fff"/>
<rect x="73" y="380" width="16" height="7" fill="#fff"/>
<rect x="90" y="380" width="16" height="7" fill="#fff"/>
<rect x="107" y="380" width="16" height="7" fill="#fff"/>
<rect x="124" y="380" width="16" height="7" fill="#fff"/>
<rect x="141" y="380" width="16" height="7" fill="#fff"/>
<rect x="158" y="380" width="16" height="7" fill="#fff"/>
<rect x="176" y="380" width="16" height="7" fill="#fff"/>
<rect x="193" y="380" width="16" height="7" fill="#fff"/>
<rect x="210" y="380" width="16" height="7" fill="#fff"/>
<rect x="227" y="380" width="16" height="7" fill="#fff"/>
<rect x="244" y="380" width="16" height="7" fill="#fff"/>
<rect x="90" y="397" width="16" height="7" fill="#fff"/>
<rect x="107" y="397" width="16" height="7" fill="#fff"/>
<rect x="124" y="397" width="16" height="7" fill="#fff"/>
<rect x="141" y="397" width="16" height="7" fill="#fff"/>
<rect x="158" y="397" width="16" height="7" fill="#fff"/>
<rect x="176" y="397" width="16" height="7" fill="#fff"/>
<rect x="193" y="397" width="16" height="7" fill="#fff"/>
<rect x="210" y="397" width="16" height="7" fill="#fff"/>
<rect x="227" y="397" width="16" height="7" fill="#fff"/>
<rect x="244" y="397" width="16" height="7" fill="#fff"/>
<rect x="124" y="414" width="16" height="7" fill="#fff"/>
<rect x="141" y="414" width="16" height="7" fill="#fff"/>
<rect x="158" y="414" width="16" height="7" fill="#fff"/>
<rect x="176" y="414" width="16" height="7" fill="#fff"/>
<rect x="193" y="414" width="16" height="7" fill="#fff"/>
<rect x="141" y="431" width="16" height="7" fill="#fff"/>
<rect x="158" y="431" width="16" height="7" fill="#fff"/>
<rect x="176" y="431" width="16" height="7" fill="#fff"/>
<rect x="193" y="431" width="16" height="7" fill="#fff"/>
<rect x="158" y="448" width="16" height="7" fill="#fff"/>
<rect x="176" y="448" width="16" height="7" fill="#fff"/>
<rect x="90" y="277" width="16" height="7" fill="#fff"/>
<rect x="107" y="277" width="16" height="7" fill="#fff"/>
<rect x="124" y="277" width="16" height="7" fill="#fff"/>
<rect x="141" y="277" width="16" height="7" fill="#fff"/>
<rect x="158" y="277" width="16" height="7" fill="#fff"/>
<rect x="176" y="277" width="16" height="7" fill="#fff"/>
<rect x="193" y="277" width="16" height="7" fill="#fff"/>
<rect x="210" y="277" width="16" height="7" fill="#fff"/>
<rect x="227" y="277" width="16" height="7" fill="#fff"/>
<rect x="244" y="277" width="16" height="7" fill="#fff"/>
<rect x="261" y="277" width="16" height="7" fill="#fff"/>
<rect x="278" y="277" width="16" height="7" fill="#fff"/>
<rect x="295" y="277" width="16" height="7" fill="#fff"/>
<rect x="466" y="277" width="16" height="7" fill="#fff"/>
<rect x="483" y="277" width="16" height="7" fill="#fff"/>
<rect x="501" y="277" width="16" height="7" fill="#fff"/>
<rect x="518" y="277" width="16" height="7" fill="#fff"/>
<rect x="535" y="277" width="16" height="7" fill="#fff"/>
<rect x="552" y="277" width="16" height="7" fill="#fff"/>
<rect x="569" y="277" width="16" height="7" fill="#fff"/>
<rect x="586" y="277" width="16" height="7" fill="#fff"/>
<rect x="603" y="277" width="16" height="7" fill="#fff"/>
<rect x="620" y="277" width="16" height="7" fill="#fff"/>
<rect x="637" y="277" width="16" height="7" fill="#fff"/>
<rect x="655" y="277" width="16" height="7" fill="#fff"/>
<rect x="672" y="277" width="16" height="7" fill="#fff"/>
<rect x="689" y="277" width="16" height="7" fill="#fff"/>
<rect x="706" y="277" width="16" height="7" fill="#fff"/>
<rect x="723" y="277" width="16" height="7" fill="#fff"/>
</g><g class="lb" transform="scale(0.92,1)">
<text x="469.9" y="44.0">3341</text>
<text x="488.4" y="44.0">3441</text>
<text x="506.8" y="44.0">3541</text>
<text x="525.3" y="44.0">3641</text>
<text x="451.4" y="61.0">3240</text>
<text x="469.9" y="61.0">3340</text>
<text x="488.4" y="61.0">3440</text>
<text x="506.8" y="61.0">3540</text>
<text x="525.3" y="61.0">3640</text>
<text x="544.9" y="61.0">3740</text>
<text x="563.4" y="61.0">3840</text>
<text x="432.9" y="78.0">3139</text>
<text x="451.4" y="78.0">3239</text>
<text x="469.9" y="78.0">3339</text>
<text x="488.4" y="78.0">3439</text>
<text x="506.8" y="78.0">3539</text>
<text x="525.3" y="78.0">3639</text>
<text x="544.9" y="78.0">3739</text>
<text x="563.4" y="78.0">3839</text>
<text x="581.8" y="78.0">3939</text>
<text x="600.3" y="78.0">4039</text>
<text x="191.6" y="95.0">1838</text>
<text x="210.1" y="95.0">1938</text>
<text x="228.6" y="95.0">2038</text>
<text x="247.1" y="95.0">2138</text>
<text x="265.5" y="95.0">2238</text>
<text x="284.0" y="95.0">2338</text>
<text x="302.5" y="95.0">2438</text>
<text x="321.0" y="95.0">2538</text>
<text x="339.5" y="95.0">2638</text>
<text x="357.9" y="95.0">2738</text>
<text x="377.5" y="95.0">2838</text>
<text x="396.0" y="95.0">2938</text>
<text x="414.5" y="95.0">3038</text>
<text x="432.9" y="95.0">3138</text>
<text x="451.4" y="95.0">3238</text>
<text x="469.9" y="95.0">3338</text>
<text x="488.4" y="95.0">3438</text>
<text x="506.8" y="95.0">3538</text>
<text x="525.3" y="95.0">3638</text>
<text x="544.9" y="95.0">3738</text>
<text x="563.4" y="95.0">3838</text>
<text x="581.8" y="95.0">3938</text>
<text x="600.3" y="95.0">4038</text>
<text x="618.8" y="95.0">4138</text>
<text x="637.3" y="95.0">4238</text>
<text x="655.8" y="95.0">4338</text>
<text x="191.6" y="112.0">1837</text>
<text x="210.1" y="112.0">1937</text>
<text x="228.6" y="112.0">2037</text>
<text x="247.1" y="112.0">2137</text>
<text x="265.5" y="112.0">2237</text>
<text x="284.0" y="112.0">2337</text>
<text x="302.5" y="112.0">2437</text>
<text x="321.0" y="112.0">2537</text>
<text x="339.5" y="112.0">2637</text>
<text x="357.9" y="112.0">2737</text>
<text x="377.5" y="112.0">2837</text>
<text x="396.0" y="112.0">2937</text>
<text x="414.5" y="112.0">3037</text>
<text x="432.9" y="112.0">3137</text>
<text x="451.4" y="112.0">3237</text>
<text x="469.9" y="112.0">3337</text>
<text x="488.4" y="112.0">3437</text>
<text x="506.8" y="112.0">3537</text>
<text x="525.3" y="112.0">3637</text>
<text x="544.9" y="112.0">3737</text>
<text x="563.4" y="112.0">3837</text>
<text x="581.8" y="112.0">3937</text>
<text x="600.3" y="112.0">4037</text>
<text x="618.8" y="112.0">4137</text>
<text x="637.3" y="112.0">4237</text>
<text x="655.8" y="112.0">4337</text>
<text x="674.2" y="112.0">4437</text>
<text x="692.7" y="112.0">4537</text>
<text x="191.6" y="128.9">1836</text>
<text x="210.1" y="128.9">1936</text>
<text x="228.6" y="128.9">2036</text>
<text x="247.1" y="128.9">2136</text>
<text x="265.5" y="128.9">2236</text>
<text x="284.0" y="128.9">2336</text>
<text x="302.5" y="128.9">2436</text>
<text x="321.0" y="128.9">2536</text>
<text x="339.5" y="128.9">2636</text>
<text x="357.9" y="128.9">2736</text>
<text x="377.5" y="128.9">2836</text>
<text x="396.0" y="128.9">2936</text>
<text x="414.5" y="128.9">3036</text>
<text x="432.9" y="128.9">3136</text>
<text x="451.4" y="128.9">3236</text>
<text x="469.9" y="128.9">3336</text>
<text x="488.4" y="128.9">3436</text>
<text x="506.8" y="128.9">3536</text>
<text x="525.3" y="128.9">3636</text>
<text x="544.9" y="128.9">3736</text>
<text x="563.4" y="128.9">3836</text>
<text x="581.8" y="128.9">3936</text>
<text x="600.3" y="128.9">4036</text>
<text x="618.8" y="128.9">4136</text>
<text x="637.3" y="128.9">4236</text>
<text x="655.8" y="128.9">4336</text>
<text x="674.2" y="128.9">4436</text>
<text x="692.7" y="128.9">4536</text>
<text x="712.3" y="128.9">4636</text>
<text x="730.8" y="128.9">4736</text>
<text x="172.1" y="145.9">1735</text>
<text x="191.6" y="145.9">1835</text>
<text x="210.1" y="145.9">1935</text>
<text x="228.6" y="145.9">2035</text>
<text x="247.1" y="145.9">2135</text>
<text x="265.5" y="145.9">2235</text>
<text x="284.0" y="145.9">2335</text>
<text x="302.5" y="145.9">2435</text>
<text x="321.0" y="145.9">2535</text>
<text x="339.5" y="145.9">2635</text>
<text x="357.9" y="145.9">2735</text>
<text x="377.5" y="145.9">2835</text>
<text x="396.0" y="145.9">2935</text>
<text x="414.5" y="145.9">3035</text>
<text x="432.9" y="145.9">3135</text>
<text x="451.4" y="145.9">3235</text>
<text x="469.9" y="145.9">3335</text>
<text x="488.4" y="145.9">3435</text>
<text x="506.8" y="145.9">3535</text>
<text x="525.3" y="145.9">3635</text>
<text x="544.9" y="145.9">3735</text>
<text x="563.4" y="145.9">3835</text>
<text x="581.8" y="145.9">3935</text>
<text x="600.3" y="145.9">4035</text>
<text x="618.8" y="145.9">4135</text>
<text x="637.3" y="145.9">4235</text>
<text x="655.8" y="145.9">4335</text>
<text x="674.2" y="145.9">4435</text>
<text x="692.7" y="145.9">4535</text>
<text x="712.3" y="145.9">4635</text>
<text x="730.8" y="145.9">4735</text>
<text x="749.2" y="145.9">4835</text>
<text x="172.1" y="162.9">1734</text>
<text x="191.6" y="162.9">1834</text>
<text x="210.1" y="162.9">1934</text>
<text x="228.6" y="162.9">2034</text>
<text x="247.1" y="162.9">2134</text>
<text x="265.5" y="162.9">2234</text>
<text x="284.0" y="162.9">2334</text>
<text x="302.5" y="162.9">2434</text>
<text x="321.0" y="162.9">2534</text>
<text x="339.5" y="162.9">2634</text>
<text x="357.9" y="162.9">2734</text>
<text x="377.5" y="162.9">2834</text>
<text x="396.0" y="162.9">2934</text>
<text x="414.5" y="162.9">3034</text>
<text x="432.9" y="162.9">3134</text>
<text x="451.4" y="162.9">3234</text>
<text x="469.9" y="162.9">3334</text>
<text x="488.4" y="162.9">3434</text>
<text x="506.8" y="162.9">3534</text>
<text x="525.3" y="162.9">3634</text>
<text x="544.9" y="162.9">3734</text>
<text x="563.4" y="162.9">3834</text>
<text x="581.8" y="162.9">3934</text>
<text x="600.3" y="162.9">4034</text>
<text x="618.8" y="162.9">4134</text>
<text x="637.3" y="162.9">4234</text>
<text x="655.8" y="162.9">4334</text>
<text x="674.2" y="162.9">4434</text>
<text x="692.7" y="162.9">4534</text>
<text x="712.3" y="162.9">4634</text>
<text x="730.8" y="162.9">4734</text>
<text x="749.2" y="162.9">4834</text>
<text x="172.1" y="179.9">1733</text>
<text x="191.6" y="179.9">1833</text>
<text x="210.1" y="179.9">1933</text>
<text x="228.6" y="179.9">2033</text>
<text x="247.1" y="179.9">2133</text>
<text x="265.5" y="179.9">2233</text>
<text x="284.0" y="179.9">2333</text>
<text x="302.5" y="179.9">2433</text>
<text x="321.0" y="179.9">2533</text>
<text x="339.5" y="179.9">2633</text>
<text x="357.9" y="179.9">2733</text>
<text x="377.5" y="179.9">2833</text>
<text x="396.0" y="179.9">2933</text>
<text x="414.5" y="179.9">3033</text>
<text x="432.9" y="179.9">3133</text>
<text x="451.4" y="179.9">3233</text>
<text x="469.9" y="179.9">3333</text>
<text x="488.4" y="179.9">3433</text>
<text x="506.8" y="179.9">3533</text>
<text x="525.3" y="179.9">3633</text>
<text x="544.9" y="179.9">3733</text>
<text x="563.4" y="179.9">3833</text>
<text x="581.8" y="179.9">3933</text>
<text x="600.3" y="179.9">4033</text>
<text x="618.8" y="179.9">4133</text>
<text x="637.3" y="179.9">4233</text>
<text x="655.8" y="179.9">4333</text>
<text x="674.2" y="179.9">4433</text>
<text x="692.7" y="179.9">4533</text>
<text x="712.3" y="179.9">4633</text>
<text x="730.8" y="179.9">4733</text>
<text x="749.2" y="179.9">4833</text>
<text x="767.7" y="179.9">4933</text>
<text x="153.6" y="197.9">1632</text>
<text x="172.1" y="197.9">1732</text>
<text x="191.6" y="197.9">1832</text>
<text x="210.1" y="197.9">1932</text>
<text x="228.6" y="197.9">2032</text>
<text x="247.1" y="197.9">2132</text>
<text x="265.5" y="197.9">2232</text>
<text x="284.0" y="197.9">2332</text>
<text x="302.5" y="197.9">2432</text>
<text x="321.0" y="197.9">2532</text>
<text x="339.5" y="197.9">2632</text>
<text x="357.9" y="197.9">2732</text>
<text x="377.5" y="197.9">2832</text>
<text x="396.0" y="197.9">2932</text>
<text x="414.5" y="197.9">3032</text>
<text x="432.9" y="197.9">3132</text>
<text x="451.4" y="197.9">3232</text>
<text x="469.9" y="197.9">3332</text>
<text x="488.4" y="197.9">3432</text>
<text x="506.8" y="197.9">3532</text>
<text x="525.3" y="197.9">3632</text>
<text x="544.9" y="197.9">3732</text>
<text x="563.4" y="197.9">3832</text>
<text x="581.8" y="197.9">3932</text>
<text x="600.3" y="197.9">4032</text>
<text x="618.8" y="197.9">4132</text>
<text x="637.3" y="197.9">4232</text>
<text x="655.8" y="197.9">4332</text>
<text x="674.2" y="197.9">4432</text>
<text x="692.7" y="197.9">4532</text>
<text x="712.3" y="197.9">4632</text>
<text x="730.8" y="197.9">4732</text>
<text x="749.2" y="197.9">4832</text>
<text x="767.7" y="197.9">4932</text>
<text x="153.6" y="214.9">1631</text>
<text x="172.1" y="214.9">1731</text>
<text x="191.6" y="214.9">1831</text>
<text x="210.1" y="214.9">1931</text>
<text x="228.6" y="214.9">2031</text>
<text x="247.1" y="214.9">2131</text>
<text x="265.5" y="214.9">2231</text>
<text x="284.0" y="214.9">2331</text>
<text x="302.5" y="214.9">2431</text>
<text x="321.0" y="214.9">2531</text>
<text x="339.5" y="214.9">2631</text>
<text x="357.9" y="214.9">2731</text>
<text x="377.5" y="214.9">2831</text>
<text x="396.0" y="214.9">2931</text>
<text x="414.5" y="214.9">3031</text>
<text x="432.9" y="214.9">3131</text>
<text x="451.4" y="214.9">3231</text>
<text x="469.9" y="214.9">3331</text>
<text x="488.4" y="214.9">3431</text>
<text x="506.8" y="214.9">3531</text>
<text x="525.3" y="214.9">3631</text>
<text x="544.9" y="214.9">3731</text>
<text x="563.4" y="214.9">3831</text>
<text x="581.8" y="214.9">3931</text>
<text x="600.3" y="214.9">4031</text>
<text x="618.8" y="214.9">4131</text>
<text x="637.3" y="214.9">4231</text>
<text x="655.8" y="214.9">4331</text>
<text x="674.2" y="214.9">4431</text>
<text x="692.7" y="214.9">4531</text>
<text x="712.3" y="214.9">4631</text>
<text x="730.8" y="214.9">4731</text>
<text x="749.2" y="214.9">4831</text>
<text x="767.7" y="214.9">4931</text>
<text x="153.6" y="231.9">1630</text>
<text x="172.1" y="231.9">1730</text>
<text x="191.6" y="231.9">1830</text>
<text x="210.1" y="231.9">1930</text>
<text x="228.6" y="231.9">2030</text>
<text x="247.1" y="231.9">2130</text>
<text x="265.5" y="231.9">2230</text>
<text x="284.0" y="231.9">2330</text>
<text x="302.5" y="231.9">2430</text>
<text x="321.0" y="231.9">2530</text>
<text x="339.5" y="231.9">2630</text>
<text x="357.9" y="231.9">2730</text>
<text x="377.5" y="231.9">2830</text>
<text x="396.0" y="231.9">2930</text>
<text x="414.5" y="231.9">3030</text>
<text x="432.9" y="231.9">3130</text>
<text x="451.4" y="231.9">3230</text>
<text x="469.9" y="231.9">3330</text>
<text x="488.4" y="231.9">3430</text>
<text x="506.8" y="231.9">3530</text>
<text x="525.3" y="231.9">3630</text>
<text x="544.9" y="231.9">3730</text>
<text x="563.4" y="231.9">3830</text>
<text x="581.8" y="231.9">3930</text>
<text x="600.3" y="231.9">4030</text>
<text x="618.8" y="231.9">4130</text>
<text x="637.3" y="231.9">4230</text>
<text x="655.8" y="231.9">4330</text>
<text x="674.2" y="231.9">4430</text>
<text x="692.7" y="231.9">4530</text>
<text x="712.3" y="231.9">4630</text>
<text x="730.8" y="231.9">4730</text>
<text x="749.2" y="231.9">4830</text>
<text x="767.7" y="231.9">4930</text>
<text x="135.1" y="248.9">1529</text>
<text x="153.6" y="248.9">1629</text>
<text x="172.1" y="248.9">1729</text>
<text x="191.6" y="248.9">1829</text>
<text x="210.1" y="248.9">1929</text>
<text x="228.6" y="248.9">2029</text>
<text x="247.1" y="248.9">2129</text>
<text x="265.5" y="248.9">2229</text>
<text x="284.0" y="248.9">2329</text>
<text x="302.5" y="248.9">2429</text>
<text x="321.0" y="248.9">2529</text>
<text x="339.5" y="248.9">2629</text>
<text x="357.9" y="248.9">2729</text>
<text x="377.5" y="248.9">2829</text>
<text x="396.0" y="248.9">2929</text>
<text x="414.5" y="248.9">3029</text>
<text x="432.9" y="248.9">3129</text>
<text x="451.4" y="248.9">3229</text>
<text x="469.9" y="248.9">3329</text>
<text x="488.4" y="248.9">3429</text>
<text x="506.8" y="248.9">3529</text>
<text x="525.3" y="248.9">3629</text>
<text x="544.9" y="248.9">3729</text>
<text x="563.4" y="248.9">3829</text>
<text x="581.8" y="248.9">3929</text>
<text x="600.3" y="248.9">4029</text>
<text x="618.8" y="248.9">4129</text>
<text x="637.3" y="248.9">4229</text>
<text x="655.8" y="248.9">4329</text>
<text x="674.2" y="248.9">4429</text>
<text x="692.7" y="248.9">4529</text>
<text x="712.3" y="248.9">4629</text>
<text x="730.8" y="248.9">4729</text>
<text x="749.2" y="248.9">4829</text>
<text x="767.7" y="248.9">4929</text>
<text x="786.2" y="248.9">5029</text>
<text x="135.1" y="265.9">1528</text>
<text x="153.6" y="265.9">1628</text>
<text x="172.1" y="265.9">1728</text>
<text x="191.6" y="265.9">1828</text>
<text x="210.1" y="265.9">1928</text>
<text x="228.6" y="265.9">2028</text>
<text x="247.1" y="265.9">2128</text>
<text x="265.5" y="265.9">2228</text>
<text x="284.0" y="265.9">2328</text>
<text x="302.5" y="265.9">2428</text>
<text x="321.0" y="265.9">2528</text>
<text x="339.5" y="265.9">2628</text>
<text x="357.9" y="265.9">2728</text>
<text x="377.5" y="265.9">2828</text>
<text x="396.0" y="265.9">2928</text>
<text x="414.5" y="265.9">3028</text>
<text x="432.9" y="265.9">3128</text>
<text x="451.4" y="265.9">3228</text>
<text x="469.9" y="265.9">3328</text>
<text x="488.4" y="265.9">3428</text>
<text x="506.8" y="265.9">3528</text>
<text x="525.3" y="265.9">3628</text>
<text x="544.9" y="265.9">3728</text>
<text x="563.4" y="265.9">3828</text>
<text x="581.8" y="265.9">3928</text>
<text x="600.3" y="265.9">4028</text>
<text x="618.8" y="265.9">4128</text>
<text x="637.3" y="265.9">4228</text>
<text x="655.8" y="265.9">4328</text>
<text x="674.2" y="265.9">4428</text>
<text x="692.7" y="265.9">4528</text>
<text x="712.3" y="265.9">4628</text>
<text x="730.8" y="265.9">4728</text>
<text x="749.2" y="265.9">4828</text>
<text x="767.7" y="265.9">4928</text>
<text x="786.2" y="265.9">5028</text>
<text x="79.7" y="299.9">1226</text>
<text x="98.2" y="299.9">1326</text>
<text x="116.6" y="299.9">1426</text>
<text x="135.1" y="299.9">1526</text>
<text x="153.6" y="299.9">1626</text>
<text x="172.1" y="299.9">1726</text>
<text x="191.6" y="299.9">1826</text>
<text x="210.1" y="299.9">1926</text>
<text x="228.6" y="299.9">2026</text>
<text x="247.1" y="299.9">2126</text>
<text x="265.5" y="299.9">2226</text>
<text x="284.0" y="299.9">2326</text>
<text x="302.5" y="299.9">2426</text>
<text x="321.0" y="299.9">2526</text>
<text x="61.2" y="316.9">1125</text>
<text x="79.7" y="316.9">1225</text>
<text x="98.2" y="316.9">1325</text>
<text x="116.6" y="316.9">1425</text>
<text x="135.1" y="316.9">1525</text>
<text x="153.6" y="316.9">1625</text>
<text x="172.1" y="316.9">1725</text>
<text x="191.6" y="316.9">1825</text>
<text x="210.1" y="316.9">1925</text>
<text x="228.6" y="316.9">2025</text>
<text x="247.1" y="316.9">2125</text>
<text x="265.5" y="316.9">2225</text>
<text x="284.0" y="316.9">2325</text>
<text x="302.5" y="316.9">2425</text>
<text x="321.0" y="316.9">2525</text>
<text x="61.2" y="333.9">1124</text>
<text x="79.7" y="333.9">1224</text>
<text x="98.2" y="333.9">1324</text>
<text x="116.6" y="333.9">1424</text>
<text x="135.1" y="333.9">1524</text>
<text x="153.6" y="333.9">1624</text>
<text x="172.1" y="333.9">1724</text>
<text x="191.6" y="333.9">1824</text>
<text x="210.1" y="333.9">1924</text>
<text x="228.6" y="333.9">2024</text>
<text x="247.1" y="333.9">2124</text>
<text x="265.5" y="333.9">2224</text>
<text x="284.0" y="333.9">2324</text>
<text x="302.5" y="333.9">2424</text>
<text x="321.0" y="333.9">2524</text>
<text x="61.2" y="351.9">1123</text>
<text x="79.7" y="351.9">1223</text>
<text x="98.2" y="351.9">1323</text>
<text x="116.6" y="351.9">1423</text>
<text x="135.1" y="351.9">1523</text>
<text x="153.6" y="351.9">1623</text>
<text x="172.1" y="351.9">1723</text>
<text x="191.6" y="351.9">1823</text>
<text x="210.1" y="351.9">1923</text>
<text x="228.6" y="351.9">2023</text>
<text x="247.1" y="351.9">2123</text>
<text x="265.5" y="351.9">2223</text>
<text x="61.2" y="368.9">1122</text>
<text x="79.7" y="368.9">1222</text>
<text x="98.2" y="368.9">1322</text>
<text x="116.6" y="368.9">1422</text>
<text x="135.1" y="368.9">1522</text>
<text x="153.6" y="368.9">1622</text>
<text x="172.1" y="368.9">1722</text>
<text x="191.6" y="368.9">1822</text>
<text x="210.1" y="368.9">1922</text>
<text x="228.6" y="368.9">2022</text>
<text x="247.1" y="368.9">2122</text>
<text x="265.5" y="368.9">2222</text>
<text x="79.7" y="385.9">1221</text>
<text x="98.2" y="385.9">1321</text>
<text x="116.6" y="385.9">1421</text>
<text x="135.1" y="385.9">1521</text>
<text x="153.6" y="385.9">1621</text>
<text x="172.1" y="385.9">1721</text>
<text x="191.6" y="385.9">1821</text>
<text x="210.1" y="385.9">1921</text>
<text x="228.6" y="385.9">2021</text>
<text x="247.1" y="385.9">2121</text>
<text x="265.5" y="385.9">2221</text>
<text x="98.2" y="402.9">1320</text>
<text x="116.6" y="402.9">1420</text>
<text x="135.1" y="402.9">1520</text>
<text x="153.6" y="402.9">1620</text>
<text x="172.1" y="402.9">1720</text>
<text x="191.6" y="402.9">1820</text>
<text x="210.1" y="402.9">1920</text>
<text x="228.6" y="402.9">2020</text>
<text x="247.1" y="402.9">2120</text>
<text x="265.5" y="402.9">2220</text>
<text x="135.1" y="419.9">1519</text>
<text x="153.6" y="419.9">1619</text>
<text x="172.1" y="419.9">1719</text>
<text x="191.6" y="419.9">1819</text>
<text x="210.1" y="419.9">1919</text>
<text x="153.6" y="436.9">1618</text>
<text x="172.1" y="436.9">1718</text>
<text x="191.6" y="436.9">1818</text>
<text x="210.1" y="436.9">1918</text>
<text x="172.1" y="453.9">1717</text>
<text x="191.6" y="453.9">1817</text>
<text x="98.2" y="282.9">1327</text>
<text x="116.6" y="282.9">1427</text>
<text x="135.1" y="282.9">1527</text>
<text x="153.6" y="282.9">1627</text>
<text x="172.1" y="282.9">1727</text>
<text x="191.6" y="282.9">1827</text>
<text x="210.1" y="282.9">1927</text>
<text x="228.6" y="282.9">2027</text>
<text x="247.1" y="282.9">2127</text>
<text x="265.5" y="282.9">2227</text>
<text x="284.0" y="282.9">2327</text>
<text x="302.5" y="282.9">2427</text>
<text x="321.0" y="282.9">2527</text>
<text x="506.8" y="282.9">3527</text>
<text x="525.3" y="282.9">3627</text>
<text x="544.9" y="282.9">3727</text>
<text x="563.4" y="282.9">3827</text>
<text x="581.8" y="282.9">3927</text>
<text x="600.3" y="282.9">4027</text>
<text x="618.8" y="282.9">4127</text>
<text x="637.3" y="282.9">4227</text>
<text x="655.8" y="282.9">4327</text>
<text x="674.2" y="282.9">4427</text>
<text x="692.7" y="282.9">4527</text>
<text x="712.3" y="282.9">4627</text>
<text x="730.8" y="282.9">4727</text>
<text x="749.2" y="282.9">4827</text>
<text x="767.7" y="282.9">4927</text>
<text x="786.2" y="282.9">5027</text>
</g>
<g shape-rendering="crispEdges">
<polygon points="18.5,513.3 26.0,516.2 35.0,518.2 39.5,520.2 42.5,518.6 47.4,518.2 58.5,518.2 64.0,518.2 67.9,523.1 71.9,528.0 72.8,530.0 73.8,534.9 75.4,541.7 72.3,545.6 73.8,549.6 83.6,553.5 85.2,550.5 86.6,548.0 92.5,547.0 99.3,549.6 107.2,556.4 115.0,563.3 122.8,568.2 132.6,578.0 138.5,580.9 147.4,587.8 146.0,592.0 18.5,592.0" fill="#00ffff"/>
<polygon points="139.5,505.5 160.1,503.5 166.0,497.6 185.6,506.4 188.5,518.2 173.8,518.2 172.8,520.2 167.0,520.2 166.4,518.2 151.3,518.8 150.3,524.1 147.4,525.1 146.4,530.0 142.5,530.9 141.5,534.5 136.6,533.9 128.3,525.1 129.7,522.1 134.6,519.2" fill="#606060"/>
<rect x="18.5" y="480.5" width="202" height="112" fill="none" stroke="#000" stroke-width="1"/>
</g>
<g fill="none" stroke="#000" stroke-width="2.1" stroke-linejoin="round" shape-rendering="crispEdges">
<polygon points="49.9,507.0 50.9,496.6 53.2,493.7 61.1,489.8 69.9,485.8 75.8,490.7 83.6,491.7 91.5,494.7 101.3,499.6 111.1,503.5 125.0,503.5 160.1,503.5 166.0,497.6 185.6,506.4 188.5,518.2 173.8,518.7 171.9,525.1 166.0,529.0 155.2,535.8 155.2,540.7 162.1,546.6 172.8,552.5 177.7,560.4 179.7,566.2 175.8,567.2 162.1,558.4 160.5,555.5 157.2,550.5 151.3,542.7 142.5,534.9 134.6,535.8 131.7,542.7 132.6,547.6 140.5,548.6 146.4,554.5 151.3,558.4 151.3,574.1 148.3,576.0 147.4,587.8 138.5,580.9 132.6,578.0 122.8,568.2 115.0,563.3 107.2,556.4 99.3,549.6 92.5,546.6 86.6,545.6 84.0,544.7 85.2,550.5 83.6,553.5 73.8,549.6 72.3,545.6 75.4,541.7 73.8,534.9 72.8,530.0 77.7,528.0 71.9,528.0 67.9,523.1 64.0,518.2 58.5,518.2 64.0,516.2 65.0,512.9 67.9,511.3 67.0,507.4 49.9,507.0"/>
</g>
<polygon points="58.5,518.5 63,514.5 64.5,518.5" fill="#000"/>
<rect x="72" y="527" width="6" height="2" fill="#000"/>
<g class="ss" font-size="6.6px" fill="#000" text-anchor="middle">
<text x="133.7" y="490" textLength="86" lengthAdjust="spacing">PREVENTIVE RELEASE</text>
<text x="130.7" y="500.6" textLength="21.6" lengthAdjust="spacing">AREA</text>
</g>
<g class="sf">
<text x="73.6" y="605.6" font-size="12.8px" textLength="88.4" lengthAdjust="spacingAndGlyphs" >AREA MAPPED</text>
<text x="296.6" y="505.4" font-size="20.5px" textLength="220.5" lengthAdjust="spacingAndGlyphs" >Medfly Preventive Release</text>
<text x="322.7" y="525.7" font-size="20.5px" textLength="167.8" lengthAdjust="spacingAndGlyphs" >Sterile Fly Recovery</text>
<text x="298.1" y="547.0" font-size="18.5px" textLength="213.4" lengthAdjust="spacingAndGlyphs" >San Bernardino County Area</text>
<text x="293.5" y="566.7" font-size="18.3px" textLength="72.3" lengthAdjust="spacingAndGlyphs" >Cycle 134</text>
<text x="387.3" y="566.7" font-size="18.3px" textLength="142.7" lengthAdjust="spacingAndGlyphs" >08/26/02 - 09/06/02</text>
<text x="229.6" y="582.0" font-size="9.8px" textLength="332.0" lengthAdjust="spacingAndGlyphs" >NOTE: UNSHADED GRIDS EITHER HAVE NO SEASONALLY AVAILABLE</text>
<text x="261.8" y="592.7" font-size="9.8px" textLength="273.3" lengthAdjust="spacingAndGlyphs" >HOST, OR THE TRAPS WERE NOT SERVICED THIS WEEK.</text>
<text x="607.2" y="384.6" font-size="11.4px" textLength="132.2" lengthAdjust="spacingAndGlyphs" >Note: No traps were serviced</text>
<text x="637.8" y="397.2" font-size="11.4px" textLength="76.4" lengthAdjust="spacingAndGlyphs" >on 9/2 - holiday.</text>
<text x="605.3" y="414.3" font-size="12.5px" textLength="161.9" lengthAdjust="spacingAndGlyphs" >RELEASE AREA BOUNDARY</text>
<text x="605.3" y="439.5" font-size="12.5px" textLength="80.5" lengthAdjust="spacingAndGlyphs" >COUNTY LINE</text>
<text x="607.8" y="461.6" font-size="12.5px" textLength="125.3" lengthAdjust="spacingAndGlyphs" >NO AVAILABLE HOST</text>
<text x="607.8" y="475.5" font-size="12.5px" textLength="85.2" lengthAdjust="spacingAndGlyphs" >YEAR - ROUND</text>
</g>
<g shape-rendering="crispEdges">
<line x1="564.6" y1="409" x2="597.7" y2="409" stroke="#000" stroke-width="3"/>
<line x1="564.6" y1="435" x2="577.2" y2="435" stroke="#000" stroke-width="2"/>
<line x1="584.2" y1="435" x2="596.8" y2="435" stroke="#000" stroke-width="2"/>
<clipPath id="lh"><rect x="575" y="454" width="18" height="16"/></clipPath>
<path clip-path="url(#lh)" d="M552.0,475L582.0,445M560.0,475L590.0,445M568.0,475L598.0,445M576.0,475L606.0,445M584.0,475L614.0,445M592.0,475L622.0,445" stroke="#ff00ff" stroke-width=".72" fill="none"/>
<rect x="574.5" y="453.5" width="19" height="17" fill="none" stroke="#000" stroke-width="1"/>
<rect x="587.5" y="495.5" width="179" height="94" fill="#fff" stroke="#000" stroke-width="1"/>
<rect x="614.5" y="530.5" width="10" height="10" fill="#ff0000" stroke="#000" stroke-width="1"/>
<rect x="614.5" y="543.5" width="10" height="10" fill="#ffff00" stroke="#000" stroke-width="1"/>
<rect x="614.5" y="556.5" width="10" height="10" fill="#55ffff" stroke="#000" stroke-width="1"/>
<rect x="614.5" y="569.5" width="10" height="10" fill="#00ff00" stroke="#000" stroke-width="1"/>
</g>
<g class="ss" fill="#ff0000">
<text x="597.8" y="508.8" font-size="10px" textLength="145.7" lengthAdjust="spacing" >AVERAGE NUMBER OF FLIES</text>
<text x="597.8" y="521.7" font-size="10px" textLength="148.4" lengthAdjust="spacing" >CAUGHT PER TRAP, PER DAY</text>
</g>
<g class="ss" fill="#0000ff">
<text x="633.8" y="540.7" font-size="10px" textLength="65.2" lengthAdjust="spacing" >LESS THAN 1</text>
<text x="711.0" y="540.7" font-size="10px" textLength="18.6" lengthAdjust="spacing" >(15)</text>
<text x="633.8" y="553.2" font-size="10px" textLength="61.7" lengthAdjust="spacing" >&gt;= 1 AND &lt; 2</text>
<text x="716.5" y="553.2" font-size="10px" textLength="13.1" lengthAdjust="spacing" >(5)</text>
<text x="633.8" y="565.8" font-size="10px" textLength="61.7" lengthAdjust="spacing" >&gt;= 2 AND &lt; 3</text>
<text x="711.0" y="565.8" font-size="10px" textLength="18.6" lengthAdjust="spacing" >(79)</text>
<text x="633.8" y="578.2" font-size="10px" textLength="56.9" lengthAdjust="spacing" >3 OR MORE</text>
<text x="705.4" y="578.2" font-size="10px" textLength="24.2" lengthAdjust="spacing" >(224)</text>
</g>
</svg></body></html>
